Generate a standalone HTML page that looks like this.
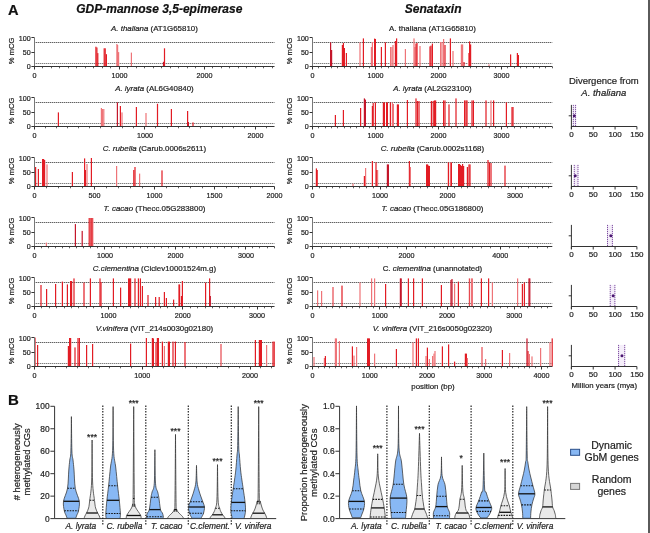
<!DOCTYPE html>
<html><head><meta charset="utf-8"><style>
html,body{margin:0;padding:0;background:#fff;}
svg{display:block;}
</style></head><body>
<svg width="650" height="533" viewBox="0 0 650 533" font-family='"Liberation Sans", Arial, sans-serif'>
<rect width="650" height="533" fill="#fff"/>
<text x="8" y="15.2" font-size="14.6" text-anchor="start" font-weight="bold" fill="#111" stroke="#111" stroke-width="0.2">A</text>
<text x="159.3" y="12.5" font-size="12" text-anchor="middle" font-weight="bold" font-style="italic" fill="#111" stroke="#111" stroke-width="0.2">GDP-mannose 3,5-epimerase</text>
<text x="433.2" y="12.5" font-size="12" text-anchor="middle" font-weight="bold" font-style="italic" fill="#111" stroke="#111" stroke-width="0.2">Senataxin</text>
<line x1="34" y1="42.5" x2="274.5" y2="42.5" stroke="#505050" stroke-width="0.9" stroke-dasharray="1.4,0.6"/>
<line x1="34" y1="63.5" x2="274.5" y2="63.5" stroke="#707070" stroke-width="0.9" stroke-dasharray="1.4,0.6"/>
<rect x="95.3" y="46.7" width="1.2" height="19.8" fill="#e21c24"/>
<rect x="96.3" y="47.5" width="1.2" height="19" fill="#e21c24"/>
<rect x="97.2" y="53.1" width="1.2" height="13.4" fill="#e21c24"/>
<rect x="103.6" y="48.3" width="1.2" height="18.2" fill="#e21c24"/>
<rect x="104.6" y="48.3" width="1.2" height="18.2" fill="#e21c24"/>
<rect x="105.8" y="54.2" width="1.2" height="12.3" fill="#e21c24"/>
<rect x="116.3" y="44" width="1.2" height="22.5" fill="#ee7478"/>
<rect x="117" y="45" width="1.2" height="21.5" fill="#ee7478"/>
<rect x="118" y="52.1" width="1.2" height="14.4" fill="#ee7478"/>
<rect x="130.8" y="52.6" width="1.2" height="13.9" fill="#ee7478"/>
<rect x="162.9" y="61.8" width="1.2" height="4.7" fill="#c4162a"/>
<rect x="163.9" y="48.3" width="1.2" height="18.2" fill="#e21c24"/>
<line x1="34.5" y1="37.8" x2="34.5" y2="69" stroke="#777" stroke-width="1"/>
<line x1="34.4" y1="66.5" x2="274.5" y2="66.5" stroke="#333" stroke-width="1"/>
<line x1="31.4" y1="66.5" x2="34.5" y2="66.5" stroke="#333" stroke-width="1"/>
<text x="30.6" y="69.4" font-size="7.1" text-anchor="end" fill="#222" stroke="#222" stroke-width="0.2">0</text>
<line x1="31.4" y1="52.5" x2="34.5" y2="52.5" stroke="#333" stroke-width="1"/>
<text x="30.6" y="55.05" font-size="7.1" text-anchor="end" fill="#222" stroke="#222" stroke-width="0.2">50</text>
<line x1="31.4" y1="37.5" x2="34.5" y2="37.5" stroke="#333" stroke-width="1"/>
<text x="30.6" y="40.7" font-size="7.1" text-anchor="end" fill="#222" stroke="#222" stroke-width="0.2">100</text>
<line x1="34.5" y1="66.5" x2="34.5" y2="69.5" stroke="#333" stroke-width="1"/>
<text x="34.4" y="77.8" font-size="7.2" text-anchor="middle" fill="#222" stroke="#222" stroke-width="0.2">0</text>
<line x1="42.5" y1="66.5" x2="42.5" y2="68.3" stroke="#333" stroke-width="0.8"/>
<line x1="51.5" y1="66.5" x2="51.5" y2="68.3" stroke="#333" stroke-width="0.8"/>
<line x1="59.5" y1="66.5" x2="59.5" y2="68.3" stroke="#333" stroke-width="0.8"/>
<line x1="68.5" y1="66.5" x2="68.5" y2="68.3" stroke="#333" stroke-width="0.8"/>
<line x1="76.5" y1="66.5" x2="76.5" y2="68.3" stroke="#333" stroke-width="0.8"/>
<line x1="85.5" y1="66.5" x2="85.5" y2="68.3" stroke="#333" stroke-width="0.8"/>
<line x1="93.5" y1="66.5" x2="93.5" y2="68.3" stroke="#333" stroke-width="0.8"/>
<line x1="102.5" y1="66.5" x2="102.5" y2="68.3" stroke="#333" stroke-width="0.8"/>
<line x1="110.5" y1="66.5" x2="110.5" y2="68.3" stroke="#333" stroke-width="0.8"/>
<line x1="119.5" y1="66.5" x2="119.5" y2="69.5" stroke="#333" stroke-width="1"/>
<text x="119.4" y="77.8" font-size="7.2" text-anchor="middle" fill="#222" stroke="#222" stroke-width="0.2">1000</text>
<line x1="127.5" y1="66.5" x2="127.5" y2="68.3" stroke="#333" stroke-width="0.8"/>
<line x1="136.5" y1="66.5" x2="136.5" y2="68.3" stroke="#333" stroke-width="0.8"/>
<line x1="144.5" y1="66.5" x2="144.5" y2="68.3" stroke="#333" stroke-width="0.8"/>
<line x1="153.5" y1="66.5" x2="153.5" y2="68.3" stroke="#333" stroke-width="0.8"/>
<line x1="161.5" y1="66.5" x2="161.5" y2="68.3" stroke="#333" stroke-width="0.8"/>
<line x1="170.5" y1="66.5" x2="170.5" y2="68.3" stroke="#333" stroke-width="0.8"/>
<line x1="178.5" y1="66.5" x2="178.5" y2="68.3" stroke="#333" stroke-width="0.8"/>
<line x1="187.5" y1="66.5" x2="187.5" y2="68.3" stroke="#333" stroke-width="0.8"/>
<line x1="195.5" y1="66.5" x2="195.5" y2="68.3" stroke="#333" stroke-width="0.8"/>
<line x1="204.5" y1="66.5" x2="204.5" y2="69.5" stroke="#333" stroke-width="1"/>
<text x="204.4" y="77.8" font-size="7.2" text-anchor="middle" fill="#222" stroke="#222" stroke-width="0.2">2000</text>
<line x1="212.5" y1="66.5" x2="212.5" y2="68.3" stroke="#333" stroke-width="0.8"/>
<line x1="221.5" y1="66.5" x2="221.5" y2="68.3" stroke="#333" stroke-width="0.8"/>
<line x1="229.5" y1="66.5" x2="229.5" y2="68.3" stroke="#333" stroke-width="0.8"/>
<line x1="238.5" y1="66.5" x2="238.5" y2="68.3" stroke="#333" stroke-width="0.8"/>
<line x1="246.5" y1="66.5" x2="246.5" y2="68.3" stroke="#333" stroke-width="0.8"/>
<line x1="255.5" y1="66.5" x2="255.5" y2="68.3" stroke="#333" stroke-width="0.8"/>
<line x1="263.5" y1="66.5" x2="263.5" y2="68.3" stroke="#333" stroke-width="0.8"/>
<line x1="272.5" y1="66.5" x2="272.5" y2="68.3" stroke="#333" stroke-width="0.8"/>
<text x="11.8" y="50.95" font-size="7.6" text-anchor="middle" fill="#222" stroke="#222" stroke-width="0.2" transform="rotate(-90 11.8 50.95)" dominant-baseline="central">% mCG</text>
<text x="154.45" y="31" font-size="7.9" text-anchor="middle" fill="#222" stroke="#222" stroke-width="0.2"><tspan font-style="italic">A. thaliana</tspan> (AT1G65810)</text>
<line x1="34" y1="102.5" x2="274.5" y2="102.5" stroke="#505050" stroke-width="0.9" stroke-dasharray="1.4,0.6"/>
<line x1="34" y1="123.5" x2="274.5" y2="123.5" stroke="#707070" stroke-width="0.9" stroke-dasharray="1.4,0.6"/>
<rect x="57.8" y="112.4" width="1.2" height="14.1" fill="#e21c24"/>
<rect x="100.8" y="108" width="1.2" height="18.5" fill="#ee7478"/>
<rect x="101.9" y="109" width="1.2" height="17.5" fill="#ee7478"/>
<rect x="103.2" y="109" width="1.2" height="17.5" fill="#ee7478"/>
<rect x="116.8" y="102.4" width="1.2" height="24.1" fill="#c4162a"/>
<rect x="119.8" y="106" width="1.2" height="20.5" fill="#e21c24"/>
<rect x="121.4" y="112.4" width="1.2" height="14.1" fill="#ee7478"/>
<rect x="135.8" y="107" width="1.2" height="19.5" fill="#e21c24"/>
<rect x="145.4" y="113" width="1.2" height="13.5" fill="#ee7478"/>
<rect x="156.9" y="103.8" width="1.2" height="22.7" fill="#e21c24"/>
<rect x="170.8" y="109" width="1.2" height="17.5" fill="#e21c24"/>
<rect x="187" y="111" width="1.2" height="15.5" fill="#e21c24"/>
<rect x="187.8" y="122" width="1.2" height="4.5" fill="#c4162a"/>
<rect x="192.4" y="122.4" width="1.2" height="4.1" fill="#e21c24"/>
<line x1="34.5" y1="97.8" x2="34.5" y2="129" stroke="#777" stroke-width="1"/>
<line x1="34.4" y1="126.5" x2="274.5" y2="126.5" stroke="#333" stroke-width="1"/>
<line x1="31.4" y1="126.5" x2="34.5" y2="126.5" stroke="#333" stroke-width="1"/>
<text x="30.6" y="129.4" font-size="7.1" text-anchor="end" fill="#222" stroke="#222" stroke-width="0.2">0</text>
<line x1="31.4" y1="112.5" x2="34.5" y2="112.5" stroke="#333" stroke-width="1"/>
<text x="30.6" y="115.05" font-size="7.1" text-anchor="end" fill="#222" stroke="#222" stroke-width="0.2">50</text>
<line x1="31.4" y1="97.5" x2="34.5" y2="97.5" stroke="#333" stroke-width="1"/>
<text x="30.6" y="100.7" font-size="7.1" text-anchor="end" fill="#222" stroke="#222" stroke-width="0.2">100</text>
<line x1="34.5" y1="126.5" x2="34.5" y2="129.5" stroke="#333" stroke-width="1"/>
<text x="34.4" y="137.8" font-size="7.2" text-anchor="middle" fill="#222" stroke="#222" stroke-width="0.2">0</text>
<line x1="45.5" y1="126.5" x2="45.5" y2="128.3" stroke="#333" stroke-width="0.8"/>
<line x1="56.5" y1="126.5" x2="56.5" y2="128.3" stroke="#333" stroke-width="0.8"/>
<line x1="67.5" y1="126.5" x2="67.5" y2="128.3" stroke="#333" stroke-width="0.8"/>
<line x1="78.5" y1="126.5" x2="78.5" y2="128.3" stroke="#333" stroke-width="0.8"/>
<line x1="89.5" y1="126.5" x2="89.5" y2="128.3" stroke="#333" stroke-width="0.8"/>
<line x1="100.5" y1="126.5" x2="100.5" y2="128.3" stroke="#333" stroke-width="0.8"/>
<line x1="111.5" y1="126.5" x2="111.5" y2="128.3" stroke="#333" stroke-width="0.8"/>
<line x1="122.5" y1="126.5" x2="122.5" y2="128.3" stroke="#333" stroke-width="0.8"/>
<line x1="133.5" y1="126.5" x2="133.5" y2="128.3" stroke="#333" stroke-width="0.8"/>
<line x1="144.5" y1="126.5" x2="144.5" y2="129.5" stroke="#333" stroke-width="1"/>
<text x="144.9" y="137.8" font-size="7.2" text-anchor="middle" fill="#222" stroke="#222" stroke-width="0.2">1000</text>
<line x1="155.5" y1="126.5" x2="155.5" y2="128.3" stroke="#333" stroke-width="0.8"/>
<line x1="167.5" y1="126.5" x2="167.5" y2="128.3" stroke="#333" stroke-width="0.8"/>
<line x1="178.5" y1="126.5" x2="178.5" y2="128.3" stroke="#333" stroke-width="0.8"/>
<line x1="189.5" y1="126.5" x2="189.5" y2="128.3" stroke="#333" stroke-width="0.8"/>
<line x1="200.5" y1="126.5" x2="200.5" y2="128.3" stroke="#333" stroke-width="0.8"/>
<line x1="211.5" y1="126.5" x2="211.5" y2="128.3" stroke="#333" stroke-width="0.8"/>
<line x1="222.5" y1="126.5" x2="222.5" y2="128.3" stroke="#333" stroke-width="0.8"/>
<line x1="233.5" y1="126.5" x2="233.5" y2="128.3" stroke="#333" stroke-width="0.8"/>
<line x1="244.5" y1="126.5" x2="244.5" y2="128.3" stroke="#333" stroke-width="0.8"/>
<line x1="255.5" y1="126.5" x2="255.5" y2="129.5" stroke="#333" stroke-width="1"/>
<text x="255.4" y="137.8" font-size="7.2" text-anchor="middle" fill="#222" stroke="#222" stroke-width="0.2">2000</text>
<line x1="266.5" y1="126.5" x2="266.5" y2="128.3" stroke="#333" stroke-width="0.8"/>
<text x="11.8" y="110.95" font-size="7.6" text-anchor="middle" fill="#222" stroke="#222" stroke-width="0.2" transform="rotate(-90 11.8 110.95)" dominant-baseline="central">% mCG</text>
<text x="154.45" y="91" font-size="7.9" text-anchor="middle" fill="#222" stroke="#222" stroke-width="0.2"><tspan font-style="italic">A. lyrata</tspan> (AL6G40840)</text>
<line x1="34" y1="162.5" x2="274.5" y2="162.5" stroke="#505050" stroke-width="0.9" stroke-dasharray="1.4,0.6"/>
<line x1="34" y1="183.5" x2="274.5" y2="183.5" stroke="#707070" stroke-width="0.9" stroke-dasharray="1.4,0.6"/>
<rect x="35" y="167" width="1.2" height="19.5" fill="#e21c24"/>
<rect x="37.8" y="169" width="1.2" height="17.5" fill="#e21c24"/>
<rect x="42" y="159" width="1.2" height="27.5" fill="#e21c24"/>
<rect x="43" y="159" width="1.2" height="27.5" fill="#e21c24"/>
<rect x="44" y="160" width="1.2" height="26.5" fill="#e21c24"/>
<rect x="46.4" y="164.4" width="1.2" height="22.1" fill="#ee7478"/>
<rect x="71.8" y="172" width="1.2" height="14.5" fill="#e21c24"/>
<rect x="84" y="158.4" width="1.2" height="28.1" fill="#e21c24"/>
<rect x="84.8" y="170" width="1.2" height="16.5" fill="#e21c24"/>
<rect x="86.4" y="164" width="1.2" height="22.5" fill="#ee7478"/>
<rect x="90.8" y="158" width="1.2" height="28.5" fill="#e21c24"/>
<rect x="116" y="166" width="1.2" height="20.5" fill="#ee7478"/>
<rect x="133.2" y="170" width="1.2" height="16.5" fill="#e21c24"/>
<rect x="134.4" y="167" width="1.2" height="19.5" fill="#e21c24"/>
<rect x="139" y="173.6" width="1.2" height="12.9" fill="#ee7478"/>
<rect x="161.4" y="170.4" width="1.2" height="16.1" fill="#e21c24"/>
<line x1="34.5" y1="157.8" x2="34.5" y2="189" stroke="#777" stroke-width="1"/>
<line x1="34.4" y1="186.5" x2="274.5" y2="186.5" stroke="#333" stroke-width="1"/>
<line x1="31.4" y1="186.5" x2="34.5" y2="186.5" stroke="#333" stroke-width="1"/>
<text x="30.6" y="189.4" font-size="7.1" text-anchor="end" fill="#222" stroke="#222" stroke-width="0.2">0</text>
<line x1="31.4" y1="172.5" x2="34.5" y2="172.5" stroke="#333" stroke-width="1"/>
<text x="30.6" y="175.05" font-size="7.1" text-anchor="end" fill="#222" stroke="#222" stroke-width="0.2">50</text>
<line x1="31.4" y1="157.5" x2="34.5" y2="157.5" stroke="#333" stroke-width="1"/>
<text x="30.6" y="160.7" font-size="7.1" text-anchor="end" fill="#222" stroke="#222" stroke-width="0.2">100</text>
<line x1="34.5" y1="186.5" x2="34.5" y2="189.5" stroke="#333" stroke-width="1"/>
<text x="34.4" y="197.8" font-size="7.2" text-anchor="middle" fill="#222" stroke="#222" stroke-width="0.2">0</text>
<line x1="46.5" y1="186.5" x2="46.5" y2="188.3" stroke="#333" stroke-width="0.8"/>
<line x1="58.5" y1="186.5" x2="58.5" y2="188.3" stroke="#333" stroke-width="0.8"/>
<line x1="70.5" y1="186.5" x2="70.5" y2="188.3" stroke="#333" stroke-width="0.8"/>
<line x1="82.5" y1="186.5" x2="82.5" y2="188.3" stroke="#333" stroke-width="0.8"/>
<line x1="94.5" y1="186.5" x2="94.5" y2="189.5" stroke="#333" stroke-width="1"/>
<text x="94.4" y="197.8" font-size="7.2" text-anchor="middle" fill="#222" stroke="#222" stroke-width="0.2">500</text>
<line x1="106.5" y1="186.5" x2="106.5" y2="188.3" stroke="#333" stroke-width="0.8"/>
<line x1="118.5" y1="186.5" x2="118.5" y2="188.3" stroke="#333" stroke-width="0.8"/>
<line x1="130.5" y1="186.5" x2="130.5" y2="188.3" stroke="#333" stroke-width="0.8"/>
<line x1="142.5" y1="186.5" x2="142.5" y2="188.3" stroke="#333" stroke-width="0.8"/>
<line x1="154.5" y1="186.5" x2="154.5" y2="189.5" stroke="#333" stroke-width="1"/>
<text x="154.4" y="197.8" font-size="7.2" text-anchor="middle" fill="#222" stroke="#222" stroke-width="0.2">1000</text>
<line x1="166.5" y1="186.5" x2="166.5" y2="188.3" stroke="#333" stroke-width="0.8"/>
<line x1="178.5" y1="186.5" x2="178.5" y2="188.3" stroke="#333" stroke-width="0.8"/>
<line x1="190.5" y1="186.5" x2="190.5" y2="188.3" stroke="#333" stroke-width="0.8"/>
<line x1="202.5" y1="186.5" x2="202.5" y2="188.3" stroke="#333" stroke-width="0.8"/>
<line x1="214.5" y1="186.5" x2="214.5" y2="189.5" stroke="#333" stroke-width="1"/>
<text x="214.4" y="197.8" font-size="7.2" text-anchor="middle" fill="#222" stroke="#222" stroke-width="0.2">1500</text>
<line x1="226.5" y1="186.5" x2="226.5" y2="188.3" stroke="#333" stroke-width="0.8"/>
<line x1="238.5" y1="186.5" x2="238.5" y2="188.3" stroke="#333" stroke-width="0.8"/>
<line x1="250.5" y1="186.5" x2="250.5" y2="188.3" stroke="#333" stroke-width="0.8"/>
<line x1="262.5" y1="186.5" x2="262.5" y2="188.3" stroke="#333" stroke-width="0.8"/>
<line x1="274.5" y1="186.5" x2="274.5" y2="189.5" stroke="#333" stroke-width="1"/>
<text x="274.4" y="197.8" font-size="7.2" text-anchor="middle" fill="#222" stroke="#222" stroke-width="0.2">2000</text>
<text x="11.8" y="170.95" font-size="7.6" text-anchor="middle" fill="#222" stroke="#222" stroke-width="0.2" transform="rotate(-90 11.8 170.95)" dominant-baseline="central">% mCG</text>
<text x="154.45" y="151" font-size="7.9" text-anchor="middle" fill="#222" stroke="#222" stroke-width="0.2"><tspan font-style="italic">C. rubella</tspan> (Carub.0006s2611)</text>
<line x1="34" y1="222.5" x2="274.5" y2="222.5" stroke="#505050" stroke-width="0.9" stroke-dasharray="1.4,0.6"/>
<line x1="34" y1="243.5" x2="274.5" y2="243.5" stroke="#707070" stroke-width="0.9" stroke-dasharray="1.4,0.6"/>
<rect x="45.8" y="242.6" width="1.2" height="3.9" fill="#ee7478"/>
<rect x="74.8" y="224.1" width="1.2" height="22.4" fill="#c4162a"/>
<rect x="81.6" y="230.9" width="1.2" height="15.6" fill="#c4162a"/>
<rect x="88.6" y="218" width="1.2" height="28.5" fill="#e21c24"/>
<rect x="89.6" y="218" width="1.2" height="28.5" fill="#e64a50"/>
<rect x="90.4" y="218" width="1.2" height="28.5" fill="#e64a50"/>
<rect x="91.3" y="218" width="1.2" height="28.5" fill="#e21c24"/>
<rect x="92.1" y="218" width="1.2" height="28.5" fill="#e64a50"/>
<line x1="34.5" y1="217.8" x2="34.5" y2="249" stroke="#777" stroke-width="1"/>
<line x1="34.4" y1="246.5" x2="274.5" y2="246.5" stroke="#333" stroke-width="1"/>
<line x1="31.4" y1="246.5" x2="34.5" y2="246.5" stroke="#333" stroke-width="1"/>
<text x="30.6" y="249.4" font-size="7.1" text-anchor="end" fill="#222" stroke="#222" stroke-width="0.2">0</text>
<line x1="31.4" y1="232.5" x2="34.5" y2="232.5" stroke="#333" stroke-width="1"/>
<text x="30.6" y="235.05" font-size="7.1" text-anchor="end" fill="#222" stroke="#222" stroke-width="0.2">50</text>
<line x1="31.4" y1="217.5" x2="34.5" y2="217.5" stroke="#333" stroke-width="1"/>
<text x="30.6" y="220.7" font-size="7.1" text-anchor="end" fill="#222" stroke="#222" stroke-width="0.2">100</text>
<line x1="34.5" y1="246.5" x2="34.5" y2="249.5" stroke="#333" stroke-width="1"/>
<text x="34.4" y="257.8" font-size="7.2" text-anchor="middle" fill="#222" stroke="#222" stroke-width="0.2">0</text>
<line x1="41.5" y1="246.5" x2="41.5" y2="248.3" stroke="#333" stroke-width="0.8"/>
<line x1="48.5" y1="246.5" x2="48.5" y2="248.3" stroke="#333" stroke-width="0.8"/>
<line x1="55.5" y1="246.5" x2="55.5" y2="248.3" stroke="#333" stroke-width="0.8"/>
<line x1="62.5" y1="246.5" x2="62.5" y2="248.3" stroke="#333" stroke-width="0.8"/>
<line x1="69.5" y1="246.5" x2="69.5" y2="248.3" stroke="#333" stroke-width="0.8"/>
<line x1="76.5" y1="246.5" x2="76.5" y2="248.3" stroke="#333" stroke-width="0.8"/>
<line x1="83.5" y1="246.5" x2="83.5" y2="248.3" stroke="#333" stroke-width="0.8"/>
<line x1="90.5" y1="246.5" x2="90.5" y2="248.3" stroke="#333" stroke-width="0.8"/>
<line x1="97.5" y1="246.5" x2="97.5" y2="248.3" stroke="#333" stroke-width="0.8"/>
<line x1="104.5" y1="246.5" x2="104.5" y2="249.5" stroke="#333" stroke-width="1"/>
<text x="104.9" y="257.8" font-size="7.2" text-anchor="middle" fill="#222" stroke="#222" stroke-width="0.2">1000</text>
<line x1="111.5" y1="246.5" x2="111.5" y2="248.3" stroke="#333" stroke-width="0.8"/>
<line x1="119.5" y1="246.5" x2="119.5" y2="248.3" stroke="#333" stroke-width="0.8"/>
<line x1="126.5" y1="246.5" x2="126.5" y2="248.3" stroke="#333" stroke-width="0.8"/>
<line x1="133.5" y1="246.5" x2="133.5" y2="248.3" stroke="#333" stroke-width="0.8"/>
<line x1="140.5" y1="246.5" x2="140.5" y2="248.3" stroke="#333" stroke-width="0.8"/>
<line x1="147.5" y1="246.5" x2="147.5" y2="248.3" stroke="#333" stroke-width="0.8"/>
<line x1="154.5" y1="246.5" x2="154.5" y2="248.3" stroke="#333" stroke-width="0.8"/>
<line x1="161.5" y1="246.5" x2="161.5" y2="248.3" stroke="#333" stroke-width="0.8"/>
<line x1="168.5" y1="246.5" x2="168.5" y2="248.3" stroke="#333" stroke-width="0.8"/>
<line x1="175.5" y1="246.5" x2="175.5" y2="249.5" stroke="#333" stroke-width="1"/>
<text x="175.4" y="257.8" font-size="7.2" text-anchor="middle" fill="#222" stroke="#222" stroke-width="0.2">2000</text>
<line x1="182.5" y1="246.5" x2="182.5" y2="248.3" stroke="#333" stroke-width="0.8"/>
<line x1="189.5" y1="246.5" x2="189.5" y2="248.3" stroke="#333" stroke-width="0.8"/>
<line x1="196.5" y1="246.5" x2="196.5" y2="248.3" stroke="#333" stroke-width="0.8"/>
<line x1="203.5" y1="246.5" x2="203.5" y2="248.3" stroke="#333" stroke-width="0.8"/>
<line x1="210.5" y1="246.5" x2="210.5" y2="248.3" stroke="#333" stroke-width="0.8"/>
<line x1="217.5" y1="246.5" x2="217.5" y2="248.3" stroke="#333" stroke-width="0.8"/>
<line x1="224.5" y1="246.5" x2="224.5" y2="248.3" stroke="#333" stroke-width="0.8"/>
<line x1="231.5" y1="246.5" x2="231.5" y2="248.3" stroke="#333" stroke-width="0.8"/>
<line x1="238.5" y1="246.5" x2="238.5" y2="248.3" stroke="#333" stroke-width="0.8"/>
<line x1="245.5" y1="246.5" x2="245.5" y2="249.5" stroke="#333" stroke-width="1"/>
<text x="245.9" y="257.8" font-size="7.2" text-anchor="middle" fill="#222" stroke="#222" stroke-width="0.2">3000</text>
<line x1="252.5" y1="246.5" x2="252.5" y2="248.3" stroke="#333" stroke-width="0.8"/>
<line x1="259.5" y1="246.5" x2="259.5" y2="248.3" stroke="#333" stroke-width="0.8"/>
<line x1="267.5" y1="246.5" x2="267.5" y2="248.3" stroke="#333" stroke-width="0.8"/>
<line x1="274.5" y1="246.5" x2="274.5" y2="248.3" stroke="#333" stroke-width="0.8"/>
<text x="11.8" y="230.95" font-size="7.6" text-anchor="middle" fill="#222" stroke="#222" stroke-width="0.2" transform="rotate(-90 11.8 230.95)" dominant-baseline="central">% mCG</text>
<text x="154.45" y="211" font-size="7.9" text-anchor="middle" fill="#222" stroke="#222" stroke-width="0.2"><tspan font-style="italic">T. cacao</tspan> (Thecc.05G283800)</text>
<line x1="34" y1="282.5" x2="274.5" y2="282.5" stroke="#505050" stroke-width="0.9" stroke-dasharray="1.4,0.6"/>
<line x1="34" y1="303.5" x2="274.5" y2="303.5" stroke="#707070" stroke-width="0.9" stroke-dasharray="1.4,0.6"/>
<rect x="40.4" y="285" width="1.2" height="21.5" fill="#e21c24"/>
<rect x="46" y="289" width="1.2" height="17.5" fill="#e21c24"/>
<rect x="55" y="284" width="1.2" height="22.5" fill="#e21c24"/>
<rect x="61.8" y="281.6" width="1.2" height="24.9" fill="#e21c24"/>
<rect x="66.8" y="284.4" width="1.2" height="22.1" fill="#e21c24"/>
<rect x="70" y="281" width="1.2" height="25.5" fill="#e21c24"/>
<rect x="71" y="281" width="1.2" height="25.5" fill="#e21c24"/>
<rect x="73.4" y="278.4" width="1.2" height="28.1" fill="#e21c24"/>
<rect x="83.4" y="282.6" width="1.2" height="23.9" fill="#e21c24"/>
<rect x="89.8" y="278.4" width="1.2" height="28.1" fill="#e21c24"/>
<rect x="99.4" y="278.4" width="1.2" height="28.1" fill="#e21c24"/>
<rect x="100.4" y="282" width="1.2" height="24.5" fill="#e21c24"/>
<rect x="112.8" y="278.4" width="1.2" height="28.1" fill="#e21c24"/>
<rect x="120" y="287.6" width="1.2" height="18.9" fill="#e21c24"/>
<rect x="128" y="278.4" width="1.2" height="28.1" fill="#e21c24"/>
<rect x="129" y="278.4" width="1.2" height="28.1" fill="#e21c24"/>
<rect x="130" y="278.4" width="1.2" height="28.1" fill="#e21c24"/>
<rect x="134.4" y="278.4" width="1.2" height="28.1" fill="#e21c24"/>
<rect x="137.8" y="278.4" width="1.2" height="28.1" fill="#e21c24"/>
<rect x="139.8" y="278.4" width="1.2" height="28.1" fill="#e21c24"/>
<rect x="141.8" y="286" width="1.2" height="20.5" fill="#e21c24"/>
<rect x="147.4" y="295" width="1.2" height="11.5" fill="#e21c24"/>
<rect x="155" y="297" width="1.2" height="9.5" fill="#e21c24"/>
<rect x="158.6" y="297" width="1.2" height="9.5" fill="#e21c24"/>
<rect x="163.8" y="292" width="1.2" height="14.5" fill="#e21c24"/>
<rect x="165.8" y="298" width="1.2" height="8.5" fill="#e21c24"/>
<rect x="173" y="299.6" width="1.2" height="6.9" fill="#e21c24"/>
<rect x="178" y="284.4" width="1.2" height="22.1" fill="#ee7478"/>
<rect x="179" y="284.4" width="1.2" height="22.1" fill="#e21c24"/>
<rect x="180.9" y="296" width="1.2" height="10.5" fill="#e21c24"/>
<rect x="181.8" y="281" width="1.2" height="25.5" fill="#e21c24"/>
<rect x="205" y="282.6" width="1.2" height="23.9" fill="#e21c24"/>
<rect x="209" y="278.4" width="1.2" height="28.1" fill="#e21c24"/>
<rect x="209.7" y="296" width="1.2" height="10.5" fill="#c4162a"/>
<line x1="34.5" y1="277.8" x2="34.5" y2="309" stroke="#777" stroke-width="1"/>
<line x1="34.4" y1="306.5" x2="274.5" y2="306.5" stroke="#333" stroke-width="1"/>
<line x1="31.4" y1="306.5" x2="34.5" y2="306.5" stroke="#333" stroke-width="1"/>
<text x="30.6" y="309.4" font-size="7.1" text-anchor="end" fill="#222" stroke="#222" stroke-width="0.2">0</text>
<line x1="31.4" y1="292.5" x2="34.5" y2="292.5" stroke="#333" stroke-width="1"/>
<text x="30.6" y="295.05" font-size="7.1" text-anchor="end" fill="#222" stroke="#222" stroke-width="0.2">50</text>
<line x1="31.4" y1="277.5" x2="34.5" y2="277.5" stroke="#333" stroke-width="1"/>
<text x="30.6" y="280.7" font-size="7.1" text-anchor="end" fill="#222" stroke="#222" stroke-width="0.2">100</text>
<line x1="34.5" y1="306.5" x2="34.5" y2="309.5" stroke="#333" stroke-width="1"/>
<text x="34.4" y="317.8" font-size="7.2" text-anchor="middle" fill="#222" stroke="#222" stroke-width="0.2">0</text>
<line x1="41.5" y1="306.5" x2="41.5" y2="308.3" stroke="#333" stroke-width="0.8"/>
<line x1="49.5" y1="306.5" x2="49.5" y2="308.3" stroke="#333" stroke-width="0.8"/>
<line x1="56.5" y1="306.5" x2="56.5" y2="308.3" stroke="#333" stroke-width="0.8"/>
<line x1="64.5" y1="306.5" x2="64.5" y2="308.3" stroke="#333" stroke-width="0.8"/>
<line x1="71.5" y1="306.5" x2="71.5" y2="308.3" stroke="#333" stroke-width="0.8"/>
<line x1="78.5" y1="306.5" x2="78.5" y2="308.3" stroke="#333" stroke-width="0.8"/>
<line x1="86.5" y1="306.5" x2="86.5" y2="308.3" stroke="#333" stroke-width="0.8"/>
<line x1="93.5" y1="306.5" x2="93.5" y2="308.3" stroke="#333" stroke-width="0.8"/>
<line x1="101.5" y1="306.5" x2="101.5" y2="308.3" stroke="#333" stroke-width="0.8"/>
<line x1="108.5" y1="306.5" x2="108.5" y2="309.5" stroke="#333" stroke-width="1"/>
<text x="108.6" y="317.8" font-size="7.2" text-anchor="middle" fill="#222" stroke="#222" stroke-width="0.2">1000</text>
<line x1="116.5" y1="306.5" x2="116.5" y2="308.3" stroke="#333" stroke-width="0.8"/>
<line x1="123.5" y1="306.5" x2="123.5" y2="308.3" stroke="#333" stroke-width="0.8"/>
<line x1="130.5" y1="306.5" x2="130.5" y2="308.3" stroke="#333" stroke-width="0.8"/>
<line x1="138.5" y1="306.5" x2="138.5" y2="308.3" stroke="#333" stroke-width="0.8"/>
<line x1="145.5" y1="306.5" x2="145.5" y2="308.3" stroke="#333" stroke-width="0.8"/>
<line x1="153.5" y1="306.5" x2="153.5" y2="308.3" stroke="#333" stroke-width="0.8"/>
<line x1="160.5" y1="306.5" x2="160.5" y2="308.3" stroke="#333" stroke-width="0.8"/>
<line x1="167.5" y1="306.5" x2="167.5" y2="308.3" stroke="#333" stroke-width="0.8"/>
<line x1="175.5" y1="306.5" x2="175.5" y2="308.3" stroke="#333" stroke-width="0.8"/>
<line x1="182.5" y1="306.5" x2="182.5" y2="309.5" stroke="#333" stroke-width="1"/>
<text x="182.8" y="317.8" font-size="7.2" text-anchor="middle" fill="#222" stroke="#222" stroke-width="0.2">2000</text>
<line x1="190.5" y1="306.5" x2="190.5" y2="308.3" stroke="#333" stroke-width="0.8"/>
<line x1="197.5" y1="306.5" x2="197.5" y2="308.3" stroke="#333" stroke-width="0.8"/>
<line x1="205.5" y1="306.5" x2="205.5" y2="308.3" stroke="#333" stroke-width="0.8"/>
<line x1="212.5" y1="306.5" x2="212.5" y2="308.3" stroke="#333" stroke-width="0.8"/>
<line x1="219.5" y1="306.5" x2="219.5" y2="308.3" stroke="#333" stroke-width="0.8"/>
<line x1="227.5" y1="306.5" x2="227.5" y2="308.3" stroke="#333" stroke-width="0.8"/>
<line x1="234.5" y1="306.5" x2="234.5" y2="308.3" stroke="#333" stroke-width="0.8"/>
<line x1="242.5" y1="306.5" x2="242.5" y2="308.3" stroke="#333" stroke-width="0.8"/>
<line x1="249.5" y1="306.5" x2="249.5" y2="308.3" stroke="#333" stroke-width="0.8"/>
<line x1="257.5" y1="306.5" x2="257.5" y2="309.5" stroke="#333" stroke-width="1"/>
<text x="257" y="317.8" font-size="7.2" text-anchor="middle" fill="#222" stroke="#222" stroke-width="0.2">3000</text>
<line x1="264.5" y1="306.5" x2="264.5" y2="308.3" stroke="#333" stroke-width="0.8"/>
<line x1="271.5" y1="306.5" x2="271.5" y2="308.3" stroke="#333" stroke-width="0.8"/>
<text x="11.8" y="290.95" font-size="7.6" text-anchor="middle" fill="#222" stroke="#222" stroke-width="0.2" transform="rotate(-90 11.8 290.95)" dominant-baseline="central">% mCG</text>
<text x="154.45" y="271" font-size="7.9" text-anchor="middle" fill="#222" stroke="#222" stroke-width="0.2"><tspan font-style="italic">C.clementina</tspan> (Ciclev10001524m.g)</text>
<line x1="34" y1="342.5" x2="274.5" y2="342.5" stroke="#505050" stroke-width="0.9" stroke-dasharray="1.4,0.6"/>
<line x1="34" y1="363.5" x2="274.5" y2="363.5" stroke="#707070" stroke-width="0.9" stroke-dasharray="1.4,0.6"/>
<rect x="34.4" y="337.6" width="1.2" height="28.9" fill="#e21c24"/>
<rect x="37" y="345" width="1.2" height="21.5" fill="#e21c24"/>
<rect x="67.8" y="346" width="1.2" height="20.5" fill="#e21c24"/>
<rect x="69" y="338" width="1.2" height="28.5" fill="#e21c24"/>
<rect x="70" y="338" width="1.2" height="28.5" fill="#e21c24"/>
<rect x="74.4" y="347.4" width="1.2" height="19.1" fill="#e21c24"/>
<rect x="77.4" y="338" width="1.2" height="28.5" fill="#e21c24"/>
<rect x="78.8" y="338" width="1.2" height="28.5" fill="#e21c24"/>
<rect x="86" y="345" width="1.2" height="21.5" fill="#e21c24"/>
<rect x="92" y="344" width="1.2" height="22.5" fill="#e21c24"/>
<rect x="130" y="343.6" width="1.2" height="22.9" fill="#e21c24"/>
<rect x="145.8" y="338" width="1.2" height="28.5" fill="#e21c24"/>
<rect x="151.8" y="338" width="1.2" height="28.5" fill="#e21c24"/>
<rect x="152.8" y="338.4" width="1.2" height="28.1" fill="#e21c24"/>
<rect x="155.4" y="342.4" width="1.2" height="24.1" fill="#e21c24"/>
<rect x="156.8" y="338" width="1.2" height="28.5" fill="#e21c24"/>
<rect x="157.8" y="338" width="1.2" height="28.5" fill="#e21c24"/>
<rect x="161.8" y="341.6" width="1.2" height="24.9" fill="#e21c24"/>
<rect x="163.8" y="346" width="1.2" height="20.5" fill="#ee7478"/>
<rect x="167.8" y="341.6" width="1.2" height="24.9" fill="#e21c24"/>
<rect x="168.8" y="341.6" width="1.2" height="24.9" fill="#e21c24"/>
<rect x="172.4" y="341.6" width="1.2" height="24.9" fill="#e21c24"/>
<rect x="174.8" y="341.6" width="1.2" height="24.9" fill="#e21c24"/>
<rect x="184.4" y="342" width="1.2" height="24.5" fill="#e21c24"/>
<rect x="220.4" y="344" width="1.2" height="22.5" fill="#e64a50"/>
<rect x="254.8" y="340" width="1.2" height="26.5" fill="#e21c24"/>
<rect x="258.8" y="340" width="1.2" height="26.5" fill="#e21c24"/>
<rect x="259.8" y="340" width="1.2" height="26.5" fill="#e21c24"/>
<rect x="260.8" y="340" width="1.2" height="26.5" fill="#e21c24"/>
<rect x="266" y="345" width="1.2" height="21.5" fill="#ee7478"/>
<rect x="272.4" y="341.6" width="1.2" height="24.9" fill="#e21c24"/>
<rect x="273.6" y="341.6" width="1.2" height="24.9" fill="#e21c24"/>
<line x1="34.5" y1="337.8" x2="34.5" y2="369" stroke="#777" stroke-width="1"/>
<line x1="34.4" y1="366.5" x2="274.5" y2="366.5" stroke="#333" stroke-width="1"/>
<line x1="31.4" y1="366.5" x2="34.5" y2="366.5" stroke="#333" stroke-width="1"/>
<text x="30.6" y="369.4" font-size="7.1" text-anchor="end" fill="#222" stroke="#222" stroke-width="0.2">0</text>
<line x1="31.4" y1="352.5" x2="34.5" y2="352.5" stroke="#333" stroke-width="1"/>
<text x="30.6" y="355.05" font-size="7.1" text-anchor="end" fill="#222" stroke="#222" stroke-width="0.2">50</text>
<line x1="31.4" y1="337.5" x2="34.5" y2="337.5" stroke="#333" stroke-width="1"/>
<text x="30.6" y="340.7" font-size="7.1" text-anchor="end" fill="#222" stroke="#222" stroke-width="0.2">100</text>
<line x1="34.5" y1="366.5" x2="34.5" y2="369.5" stroke="#333" stroke-width="1"/>
<text x="34.4" y="377.8" font-size="7.2" text-anchor="middle" fill="#222" stroke="#222" stroke-width="0.2">0</text>
<line x1="45.5" y1="366.5" x2="45.5" y2="368.3" stroke="#333" stroke-width="0.8"/>
<line x1="55.5" y1="366.5" x2="55.5" y2="368.3" stroke="#333" stroke-width="0.8"/>
<line x1="66.5" y1="366.5" x2="66.5" y2="368.3" stroke="#333" stroke-width="0.8"/>
<line x1="77.5" y1="366.5" x2="77.5" y2="368.3" stroke="#333" stroke-width="0.8"/>
<line x1="88.5" y1="366.5" x2="88.5" y2="368.3" stroke="#333" stroke-width="0.8"/>
<line x1="99.5" y1="366.5" x2="99.5" y2="368.3" stroke="#333" stroke-width="0.8"/>
<line x1="109.5" y1="366.5" x2="109.5" y2="368.3" stroke="#333" stroke-width="0.8"/>
<line x1="120.5" y1="366.5" x2="120.5" y2="368.3" stroke="#333" stroke-width="0.8"/>
<line x1="131.5" y1="366.5" x2="131.5" y2="368.3" stroke="#333" stroke-width="0.8"/>
<line x1="142.5" y1="366.5" x2="142.5" y2="369.5" stroke="#333" stroke-width="1"/>
<text x="142.2" y="377.8" font-size="7.2" text-anchor="middle" fill="#222" stroke="#222" stroke-width="0.2">1000</text>
<line x1="152.5" y1="366.5" x2="152.5" y2="368.3" stroke="#333" stroke-width="0.8"/>
<line x1="163.5" y1="366.5" x2="163.5" y2="368.3" stroke="#333" stroke-width="0.8"/>
<line x1="174.5" y1="366.5" x2="174.5" y2="368.3" stroke="#333" stroke-width="0.8"/>
<line x1="185.5" y1="366.5" x2="185.5" y2="368.3" stroke="#333" stroke-width="0.8"/>
<line x1="196.5" y1="366.5" x2="196.5" y2="368.3" stroke="#333" stroke-width="0.8"/>
<line x1="206.5" y1="366.5" x2="206.5" y2="368.3" stroke="#333" stroke-width="0.8"/>
<line x1="217.5" y1="366.5" x2="217.5" y2="368.3" stroke="#333" stroke-width="0.8"/>
<line x1="228.5" y1="366.5" x2="228.5" y2="368.3" stroke="#333" stroke-width="0.8"/>
<line x1="239.5" y1="366.5" x2="239.5" y2="368.3" stroke="#333" stroke-width="0.8"/>
<line x1="250.5" y1="366.5" x2="250.5" y2="369.5" stroke="#333" stroke-width="1"/>
<text x="250" y="377.8" font-size="7.2" text-anchor="middle" fill="#222" stroke="#222" stroke-width="0.2">2000</text>
<line x1="260.5" y1="366.5" x2="260.5" y2="368.3" stroke="#333" stroke-width="0.8"/>
<line x1="271.5" y1="366.5" x2="271.5" y2="368.3" stroke="#333" stroke-width="0.8"/>
<text x="11.8" y="350.95" font-size="7.6" text-anchor="middle" fill="#222" stroke="#222" stroke-width="0.2" transform="rotate(-90 11.8 350.95)" dominant-baseline="central">% mCG</text>
<text x="154.45" y="331" font-size="7.9" text-anchor="middle" fill="#222" stroke="#222" stroke-width="0.2"><tspan font-style="italic">V.vinifera</tspan> (VIT_214s0030g02180)</text>
<line x1="312" y1="42.5" x2="552.3" y2="42.5" stroke="#505050" stroke-width="0.9" stroke-dasharray="1.4,0.6"/>
<line x1="312" y1="63.5" x2="552.3" y2="63.5" stroke="#707070" stroke-width="0.9" stroke-dasharray="1.4,0.6"/>
<rect x="330" y="42.4" width="1.2" height="24.1" fill="#c4162a"/>
<rect x="331" y="50" width="1.2" height="16.5" fill="#c4162a"/>
<rect x="341.8" y="45" width="1.2" height="21.5" fill="#e21c24"/>
<rect x="342.8" y="43" width="1.2" height="23.5" fill="#e21c24"/>
<rect x="343.8" y="48" width="1.2" height="18.5" fill="#e21c24"/>
<rect x="345.8" y="53" width="1.2" height="13.5" fill="#e21c24"/>
<rect x="359.4" y="42.4" width="1.2" height="24.1" fill="#ee7478"/>
<rect x="362.8" y="38.4" width="1.2" height="28.1" fill="#e21c24"/>
<rect x="370.8" y="47" width="1.2" height="19.5" fill="#ee7478"/>
<rect x="371.8" y="42" width="1.2" height="24.5" fill="#ee7478"/>
<rect x="374" y="38.6" width="1.2" height="27.9" fill="#e21c24"/>
<rect x="374.8" y="39" width="1.2" height="27.5" fill="#e21c24"/>
<rect x="380.8" y="47" width="1.2" height="19.5" fill="#e21c24"/>
<rect x="384.8" y="42.4" width="1.2" height="24.1" fill="#e21c24"/>
<rect x="390" y="47" width="1.2" height="19.5" fill="#ee7478"/>
<rect x="391.4" y="47" width="1.2" height="19.5" fill="#ee7478"/>
<rect x="392.4" y="45" width="1.2" height="21.5" fill="#ee7478"/>
<rect x="394.8" y="41" width="1.2" height="25.5" fill="#e21c24"/>
<rect x="396" y="38.4" width="1.2" height="28.1" fill="#e21c24"/>
<rect x="404.8" y="49" width="1.2" height="17.5" fill="#ee7478"/>
<rect x="413.4" y="38.4" width="1.2" height="28.1" fill="#ee7478"/>
<rect x="414.2" y="47" width="1.2" height="19.5" fill="#ee7478"/>
<rect x="415.4" y="43.6" width="1.2" height="22.9" fill="#e21c24"/>
<rect x="416.4" y="43" width="1.2" height="23.5" fill="#e21c24"/>
<rect x="419.4" y="46" width="1.2" height="20.5" fill="#ee7478"/>
<rect x="429.4" y="46.4" width="1.2" height="20.1" fill="#e21c24"/>
<rect x="430.4" y="45.6" width="1.2" height="20.9" fill="#e21c24"/>
<rect x="431.8" y="43.6" width="1.2" height="22.9" fill="#e21c24"/>
<rect x="440" y="42" width="1.2" height="24.5" fill="#ee7478"/>
<rect x="441.4" y="42" width="1.2" height="24.5" fill="#ee7478"/>
<rect x="443" y="39" width="1.2" height="27.5" fill="#ee7478"/>
<rect x="444.4" y="45" width="1.2" height="21.5" fill="#e21c24"/>
<rect x="449.8" y="38.4" width="1.2" height="28.1" fill="#e21c24"/>
<rect x="452.4" y="51" width="1.2" height="15.5" fill="#ee7478"/>
<rect x="460.8" y="44.4" width="1.2" height="22.1" fill="#ee7478"/>
<rect x="462" y="44.4" width="1.2" height="22.1" fill="#ee7478"/>
<rect x="463.4" y="62" width="1.2" height="4.5" fill="#e21c24"/>
<rect x="468" y="53" width="1.2" height="13.5" fill="#ee7478"/>
<rect x="469" y="41.4" width="1.2" height="25.1" fill="#e21c24"/>
<rect x="470" y="44.4" width="1.2" height="22.1" fill="#e21c24"/>
<rect x="488.4" y="64.4" width="1.2" height="2.1" fill="#ee7478"/>
<rect x="510" y="54.4" width="1.2" height="12.1" fill="#e21c24"/>
<rect x="516.8" y="53" width="1.2" height="13.5" fill="#e21c24"/>
<rect x="517.8" y="55" width="1.2" height="11.5" fill="#e21c24"/>
<line x1="312.5" y1="37.8" x2="312.5" y2="69" stroke="#777" stroke-width="1"/>
<line x1="312.6" y1="66.5" x2="552.3" y2="66.5" stroke="#333" stroke-width="1"/>
<line x1="309.6" y1="66.5" x2="312.5" y2="66.5" stroke="#333" stroke-width="1"/>
<text x="308.8" y="69.4" font-size="7.1" text-anchor="end" fill="#222" stroke="#222" stroke-width="0.2">0</text>
<line x1="309.6" y1="52.5" x2="312.5" y2="52.5" stroke="#333" stroke-width="1"/>
<text x="308.8" y="55.05" font-size="7.1" text-anchor="end" fill="#222" stroke="#222" stroke-width="0.2">50</text>
<line x1="309.6" y1="37.5" x2="312.5" y2="37.5" stroke="#333" stroke-width="1"/>
<text x="308.8" y="40.7" font-size="7.1" text-anchor="end" fill="#222" stroke="#222" stroke-width="0.2">100</text>
<line x1="312.5" y1="66.5" x2="312.5" y2="69.5" stroke="#333" stroke-width="1"/>
<text x="312.6" y="77.8" font-size="7.2" text-anchor="middle" fill="#222" stroke="#222" stroke-width="0.2">0</text>
<line x1="318.5" y1="66.5" x2="318.5" y2="68.3" stroke="#333" stroke-width="0.8"/>
<line x1="325.5" y1="66.5" x2="325.5" y2="68.3" stroke="#333" stroke-width="0.8"/>
<line x1="331.5" y1="66.5" x2="331.5" y2="68.3" stroke="#333" stroke-width="0.8"/>
<line x1="337.5" y1="66.5" x2="337.5" y2="68.3" stroke="#333" stroke-width="0.8"/>
<line x1="344.5" y1="66.5" x2="344.5" y2="68.3" stroke="#333" stroke-width="0.8"/>
<line x1="350.5" y1="66.5" x2="350.5" y2="68.3" stroke="#333" stroke-width="0.8"/>
<line x1="356.5" y1="66.5" x2="356.5" y2="68.3" stroke="#333" stroke-width="0.8"/>
<line x1="363.5" y1="66.5" x2="363.5" y2="68.3" stroke="#333" stroke-width="0.8"/>
<line x1="369.5" y1="66.5" x2="369.5" y2="68.3" stroke="#333" stroke-width="0.8"/>
<line x1="375.5" y1="66.5" x2="375.5" y2="69.5" stroke="#333" stroke-width="1"/>
<text x="375.6" y="77.8" font-size="7.2" text-anchor="middle" fill="#222" stroke="#222" stroke-width="0.2">1000</text>
<line x1="381.5" y1="66.5" x2="381.5" y2="68.3" stroke="#333" stroke-width="0.8"/>
<line x1="388.5" y1="66.5" x2="388.5" y2="68.3" stroke="#333" stroke-width="0.8"/>
<line x1="394.5" y1="66.5" x2="394.5" y2="68.3" stroke="#333" stroke-width="0.8"/>
<line x1="400.5" y1="66.5" x2="400.5" y2="68.3" stroke="#333" stroke-width="0.8"/>
<line x1="407.5" y1="66.5" x2="407.5" y2="68.3" stroke="#333" stroke-width="0.8"/>
<line x1="413.5" y1="66.5" x2="413.5" y2="68.3" stroke="#333" stroke-width="0.8"/>
<line x1="419.5" y1="66.5" x2="419.5" y2="68.3" stroke="#333" stroke-width="0.8"/>
<line x1="426.5" y1="66.5" x2="426.5" y2="68.3" stroke="#333" stroke-width="0.8"/>
<line x1="432.5" y1="66.5" x2="432.5" y2="68.3" stroke="#333" stroke-width="0.8"/>
<line x1="438.5" y1="66.5" x2="438.5" y2="69.5" stroke="#333" stroke-width="1"/>
<text x="438.6" y="77.8" font-size="7.2" text-anchor="middle" fill="#222" stroke="#222" stroke-width="0.2">2000</text>
<line x1="444.5" y1="66.5" x2="444.5" y2="68.3" stroke="#333" stroke-width="0.8"/>
<line x1="451.5" y1="66.5" x2="451.5" y2="68.3" stroke="#333" stroke-width="0.8"/>
<line x1="457.5" y1="66.5" x2="457.5" y2="68.3" stroke="#333" stroke-width="0.8"/>
<line x1="463.5" y1="66.5" x2="463.5" y2="68.3" stroke="#333" stroke-width="0.8"/>
<line x1="470.5" y1="66.5" x2="470.5" y2="68.3" stroke="#333" stroke-width="0.8"/>
<line x1="476.5" y1="66.5" x2="476.5" y2="68.3" stroke="#333" stroke-width="0.8"/>
<line x1="482.5" y1="66.5" x2="482.5" y2="68.3" stroke="#333" stroke-width="0.8"/>
<line x1="489.5" y1="66.5" x2="489.5" y2="68.3" stroke="#333" stroke-width="0.8"/>
<line x1="495.5" y1="66.5" x2="495.5" y2="68.3" stroke="#333" stroke-width="0.8"/>
<line x1="501.5" y1="66.5" x2="501.5" y2="69.5" stroke="#333" stroke-width="1"/>
<text x="501.6" y="77.8" font-size="7.2" text-anchor="middle" fill="#222" stroke="#222" stroke-width="0.2">3000</text>
<line x1="507.5" y1="66.5" x2="507.5" y2="68.3" stroke="#333" stroke-width="0.8"/>
<line x1="514.5" y1="66.5" x2="514.5" y2="68.3" stroke="#333" stroke-width="0.8"/>
<line x1="520.5" y1="66.5" x2="520.5" y2="68.3" stroke="#333" stroke-width="0.8"/>
<line x1="526.5" y1="66.5" x2="526.5" y2="68.3" stroke="#333" stroke-width="0.8"/>
<line x1="533.5" y1="66.5" x2="533.5" y2="68.3" stroke="#333" stroke-width="0.8"/>
<line x1="539.5" y1="66.5" x2="539.5" y2="68.3" stroke="#333" stroke-width="0.8"/>
<line x1="545.5" y1="66.5" x2="545.5" y2="68.3" stroke="#333" stroke-width="0.8"/>
<line x1="552.5" y1="66.5" x2="552.5" y2="68.3" stroke="#333" stroke-width="0.8"/>
<text x="289.8" y="50.95" font-size="7.6" text-anchor="middle" fill="#222" stroke="#222" stroke-width="0.2" transform="rotate(-90 289.8 50.95)" dominant-baseline="central">% mCG</text>
<text x="432.45" y="31" font-size="7.9" text-anchor="middle" fill="#222" stroke="#222" stroke-width="0.2">A. thaliana (AT1G65810)</text>
<line x1="312" y1="102.5" x2="552.3" y2="102.5" stroke="#505050" stroke-width="0.9" stroke-dasharray="1.4,0.6"/>
<line x1="312" y1="123.5" x2="552.3" y2="123.5" stroke="#707070" stroke-width="0.9" stroke-dasharray="1.4,0.6"/>
<rect x="334.8" y="115" width="1.2" height="11.5" fill="#e21c24"/>
<rect x="342.8" y="110" width="1.2" height="16.5" fill="#e21c24"/>
<rect x="360" y="108" width="1.2" height="18.5" fill="#e21c24"/>
<rect x="363.8" y="98.4" width="1.2" height="28.1" fill="#c4162a"/>
<rect x="364.8" y="99.6" width="1.2" height="26.9" fill="#c4162a"/>
<rect x="371.8" y="106" width="1.2" height="20.5" fill="#e21c24"/>
<rect x="372.6" y="103" width="1.2" height="23.5" fill="#e21c24"/>
<rect x="374.8" y="102.4" width="1.2" height="24.1" fill="#e21c24"/>
<rect x="382.8" y="102.4" width="1.2" height="24.1" fill="#e21c24"/>
<rect x="383.8" y="102.4" width="1.2" height="24.1" fill="#e21c24"/>
<rect x="386" y="102.4" width="1.2" height="24.1" fill="#e21c24"/>
<rect x="386.8" y="102.4" width="1.2" height="24.1" fill="#e21c24"/>
<rect x="389.8" y="102.4" width="1.2" height="24.1" fill="#e21c24"/>
<rect x="391.8" y="102.4" width="1.2" height="24.1" fill="#ee7478"/>
<rect x="392.8" y="104" width="1.2" height="22.5" fill="#ee7478"/>
<rect x="396.8" y="104.4" width="1.2" height="22.1" fill="#e21c24"/>
<rect x="397.8" y="104.4" width="1.2" height="22.1" fill="#e21c24"/>
<rect x="406.8" y="100" width="1.2" height="26.5" fill="#e21c24"/>
<rect x="415.4" y="98.4" width="1.2" height="28.1" fill="#e21c24"/>
<rect x="416.8" y="101" width="1.2" height="25.5" fill="#e21c24"/>
<rect x="418.4" y="101" width="1.2" height="25.5" fill="#e21c24"/>
<rect x="430.8" y="101" width="1.2" height="25.5" fill="#e21c24"/>
<rect x="432.6" y="101" width="1.2" height="25.5" fill="#e21c24"/>
<rect x="433.8" y="100.4" width="1.2" height="26.1" fill="#e21c24"/>
<rect x="435" y="100.4" width="1.2" height="26.1" fill="#e21c24"/>
<rect x="443" y="100.4" width="1.2" height="26.1" fill="#e21c24"/>
<rect x="444.4" y="100.4" width="1.2" height="26.1" fill="#e21c24"/>
<rect x="448.4" y="104.4" width="1.2" height="22.1" fill="#e21c24"/>
<rect x="455.4" y="98.4" width="1.2" height="28.1" fill="#e21c24"/>
<rect x="464" y="100.4" width="1.2" height="26.1" fill="#e21c24"/>
<rect x="465.4" y="100.4" width="1.2" height="26.1" fill="#e21c24"/>
<rect x="466.4" y="100.4" width="1.2" height="26.1" fill="#e21c24"/>
<rect x="471.4" y="100.4" width="1.2" height="26.1" fill="#e21c24"/>
<rect x="472.8" y="100.4" width="1.2" height="26.1" fill="#e21c24"/>
<rect x="485.4" y="100.4" width="1.2" height="26.1" fill="#e21c24"/>
<rect x="490.4" y="100.4" width="1.2" height="26.1" fill="#ee7478"/>
<rect x="493" y="100.4" width="1.2" height="26.1" fill="#e21c24"/>
<rect x="505.8" y="102.4" width="1.2" height="24.1" fill="#e21c24"/>
<rect x="511.4" y="107" width="1.2" height="19.5" fill="#e21c24"/>
<rect x="512.4" y="107" width="1.2" height="19.5" fill="#e21c24"/>
<line x1="312.5" y1="97.8" x2="312.5" y2="129" stroke="#777" stroke-width="1"/>
<line x1="312.6" y1="126.5" x2="552.3" y2="126.5" stroke="#333" stroke-width="1"/>
<line x1="309.6" y1="126.5" x2="312.5" y2="126.5" stroke="#333" stroke-width="1"/>
<text x="308.8" y="129.4" font-size="7.1" text-anchor="end" fill="#222" stroke="#222" stroke-width="0.2">0</text>
<line x1="309.6" y1="112.5" x2="312.5" y2="112.5" stroke="#333" stroke-width="1"/>
<text x="308.8" y="115.05" font-size="7.1" text-anchor="end" fill="#222" stroke="#222" stroke-width="0.2">50</text>
<line x1="309.6" y1="97.5" x2="312.5" y2="97.5" stroke="#333" stroke-width="1"/>
<text x="308.8" y="100.7" font-size="7.1" text-anchor="end" fill="#222" stroke="#222" stroke-width="0.2">100</text>
<line x1="312.5" y1="126.5" x2="312.5" y2="129.5" stroke="#333" stroke-width="1"/>
<text x="312.6" y="137.8" font-size="7.2" text-anchor="middle" fill="#222" stroke="#222" stroke-width="0.2">0</text>
<line x1="318.5" y1="126.5" x2="318.5" y2="128.3" stroke="#333" stroke-width="0.8"/>
<line x1="325.5" y1="126.5" x2="325.5" y2="128.3" stroke="#333" stroke-width="0.8"/>
<line x1="331.5" y1="126.5" x2="331.5" y2="128.3" stroke="#333" stroke-width="0.8"/>
<line x1="337.5" y1="126.5" x2="337.5" y2="128.3" stroke="#333" stroke-width="0.8"/>
<line x1="344.5" y1="126.5" x2="344.5" y2="128.3" stroke="#333" stroke-width="0.8"/>
<line x1="350.5" y1="126.5" x2="350.5" y2="128.3" stroke="#333" stroke-width="0.8"/>
<line x1="356.5" y1="126.5" x2="356.5" y2="128.3" stroke="#333" stroke-width="0.8"/>
<line x1="363.5" y1="126.5" x2="363.5" y2="128.3" stroke="#333" stroke-width="0.8"/>
<line x1="369.5" y1="126.5" x2="369.5" y2="128.3" stroke="#333" stroke-width="0.8"/>
<line x1="375.5" y1="126.5" x2="375.5" y2="129.5" stroke="#333" stroke-width="1"/>
<text x="375.6" y="137.8" font-size="7.2" text-anchor="middle" fill="#222" stroke="#222" stroke-width="0.2">1000</text>
<line x1="381.5" y1="126.5" x2="381.5" y2="128.3" stroke="#333" stroke-width="0.8"/>
<line x1="388.5" y1="126.5" x2="388.5" y2="128.3" stroke="#333" stroke-width="0.8"/>
<line x1="394.5" y1="126.5" x2="394.5" y2="128.3" stroke="#333" stroke-width="0.8"/>
<line x1="400.5" y1="126.5" x2="400.5" y2="128.3" stroke="#333" stroke-width="0.8"/>
<line x1="407.5" y1="126.5" x2="407.5" y2="128.3" stroke="#333" stroke-width="0.8"/>
<line x1="413.5" y1="126.5" x2="413.5" y2="128.3" stroke="#333" stroke-width="0.8"/>
<line x1="419.5" y1="126.5" x2="419.5" y2="128.3" stroke="#333" stroke-width="0.8"/>
<line x1="426.5" y1="126.5" x2="426.5" y2="128.3" stroke="#333" stroke-width="0.8"/>
<line x1="432.5" y1="126.5" x2="432.5" y2="128.3" stroke="#333" stroke-width="0.8"/>
<line x1="438.5" y1="126.5" x2="438.5" y2="129.5" stroke="#333" stroke-width="1"/>
<text x="438.6" y="137.8" font-size="7.2" text-anchor="middle" fill="#222" stroke="#222" stroke-width="0.2">2000</text>
<line x1="444.5" y1="126.5" x2="444.5" y2="128.3" stroke="#333" stroke-width="0.8"/>
<line x1="451.5" y1="126.5" x2="451.5" y2="128.3" stroke="#333" stroke-width="0.8"/>
<line x1="457.5" y1="126.5" x2="457.5" y2="128.3" stroke="#333" stroke-width="0.8"/>
<line x1="463.5" y1="126.5" x2="463.5" y2="128.3" stroke="#333" stroke-width="0.8"/>
<line x1="470.5" y1="126.5" x2="470.5" y2="128.3" stroke="#333" stroke-width="0.8"/>
<line x1="476.5" y1="126.5" x2="476.5" y2="128.3" stroke="#333" stroke-width="0.8"/>
<line x1="482.5" y1="126.5" x2="482.5" y2="128.3" stroke="#333" stroke-width="0.8"/>
<line x1="489.5" y1="126.5" x2="489.5" y2="128.3" stroke="#333" stroke-width="0.8"/>
<line x1="495.5" y1="126.5" x2="495.5" y2="128.3" stroke="#333" stroke-width="0.8"/>
<line x1="501.5" y1="126.5" x2="501.5" y2="129.5" stroke="#333" stroke-width="1"/>
<text x="501.6" y="137.8" font-size="7.2" text-anchor="middle" fill="#222" stroke="#222" stroke-width="0.2">3000</text>
<line x1="507.5" y1="126.5" x2="507.5" y2="128.3" stroke="#333" stroke-width="0.8"/>
<line x1="514.5" y1="126.5" x2="514.5" y2="128.3" stroke="#333" stroke-width="0.8"/>
<line x1="520.5" y1="126.5" x2="520.5" y2="128.3" stroke="#333" stroke-width="0.8"/>
<line x1="526.5" y1="126.5" x2="526.5" y2="128.3" stroke="#333" stroke-width="0.8"/>
<line x1="533.5" y1="126.5" x2="533.5" y2="128.3" stroke="#333" stroke-width="0.8"/>
<line x1="539.5" y1="126.5" x2="539.5" y2="128.3" stroke="#333" stroke-width="0.8"/>
<line x1="545.5" y1="126.5" x2="545.5" y2="128.3" stroke="#333" stroke-width="0.8"/>
<line x1="552.5" y1="126.5" x2="552.5" y2="128.3" stroke="#333" stroke-width="0.8"/>
<text x="289.8" y="110.95" font-size="7.6" text-anchor="middle" fill="#222" stroke="#222" stroke-width="0.2" transform="rotate(-90 289.8 110.95)" dominant-baseline="central">% mCG</text>
<text x="432.45" y="91" font-size="7.9" text-anchor="middle" fill="#222" stroke="#222" stroke-width="0.2"><tspan font-style="italic">A. lyrata</tspan> (AL2G23100)</text>
<line x1="312" y1="162.5" x2="552.3" y2="162.5" stroke="#505050" stroke-width="0.9" stroke-dasharray="1.4,0.6"/>
<line x1="312" y1="183.5" x2="552.3" y2="183.5" stroke="#707070" stroke-width="0.9" stroke-dasharray="1.4,0.6"/>
<rect x="315.8" y="168.4" width="1.2" height="18.1" fill="#e21c24"/>
<rect x="316.6" y="170" width="1.2" height="16.5" fill="#e21c24"/>
<rect x="352.4" y="183.6" width="1.2" height="2.9" fill="#ee7478"/>
<rect x="363.8" y="176" width="1.2" height="10.5" fill="#e21c24"/>
<rect x="365" y="168" width="1.2" height="18.5" fill="#ee7478"/>
<rect x="371.8" y="161" width="1.2" height="25.5" fill="#e21c24"/>
<rect x="375.4" y="162.4" width="1.2" height="24.1" fill="#e21c24"/>
<rect x="376.2" y="170" width="1.2" height="16.5" fill="#e21c24"/>
<rect x="377" y="170" width="1.2" height="16.5" fill="#ee7478"/>
<rect x="386.8" y="164.4" width="1.2" height="22.1" fill="#c4162a"/>
<rect x="387.8" y="164.4" width="1.2" height="22.1" fill="#c4162a"/>
<rect x="408.8" y="161" width="1.2" height="25.5" fill="#e21c24"/>
<rect x="409.8" y="167" width="1.2" height="19.5" fill="#ee7478"/>
<rect x="426" y="164.4" width="1.2" height="22.1" fill="#e21c24"/>
<rect x="427" y="164.4" width="1.2" height="22.1" fill="#e21c24"/>
<rect x="428" y="165.6" width="1.2" height="20.9" fill="#e21c24"/>
<rect x="428.8" y="166" width="1.2" height="20.5" fill="#e21c24"/>
<rect x="447.8" y="162.4" width="1.2" height="24.1" fill="#e21c24"/>
<rect x="449.8" y="162.4" width="1.2" height="24.1" fill="#ee7478"/>
<rect x="450.8" y="162.4" width="1.2" height="24.1" fill="#e21c24"/>
<rect x="458" y="164" width="1.2" height="22.5" fill="#e21c24"/>
<rect x="459" y="164" width="1.2" height="22.5" fill="#e21c24"/>
<rect x="460" y="165" width="1.2" height="21.5" fill="#e21c24"/>
<rect x="461" y="166" width="1.2" height="20.5" fill="#e21c24"/>
<rect x="462" y="164" width="1.2" height="22.5" fill="#e21c24"/>
<rect x="463" y="166" width="1.2" height="20.5" fill="#e21c24"/>
<rect x="466.8" y="167" width="1.2" height="19.5" fill="#e21c24"/>
<rect x="468.4" y="164.4" width="1.2" height="22.1" fill="#e21c24"/>
<rect x="469.4" y="164.4" width="1.2" height="22.1" fill="#e21c24"/>
<rect x="487.4" y="160" width="1.2" height="26.5" fill="#e21c24"/>
<rect x="488.8" y="162.4" width="1.2" height="24.1" fill="#e21c24"/>
<rect x="490.4" y="163" width="1.2" height="23.5" fill="#e21c24"/>
<rect x="504.4" y="165.6" width="1.2" height="20.9" fill="#e21c24"/>
<line x1="312.5" y1="157.8" x2="312.5" y2="189" stroke="#777" stroke-width="1"/>
<line x1="312.6" y1="186.5" x2="552.3" y2="186.5" stroke="#333" stroke-width="1"/>
<line x1="309.6" y1="186.5" x2="312.5" y2="186.5" stroke="#333" stroke-width="1"/>
<text x="308.8" y="189.4" font-size="7.1" text-anchor="end" fill="#222" stroke="#222" stroke-width="0.2">0</text>
<line x1="309.6" y1="172.5" x2="312.5" y2="172.5" stroke="#333" stroke-width="1"/>
<text x="308.8" y="175.05" font-size="7.1" text-anchor="end" fill="#222" stroke="#222" stroke-width="0.2">50</text>
<line x1="309.6" y1="157.5" x2="312.5" y2="157.5" stroke="#333" stroke-width="1"/>
<text x="308.8" y="160.7" font-size="7.1" text-anchor="end" fill="#222" stroke="#222" stroke-width="0.2">100</text>
<line x1="312.5" y1="186.5" x2="312.5" y2="189.5" stroke="#333" stroke-width="1"/>
<text x="312.6" y="197.8" font-size="7.2" text-anchor="middle" fill="#222" stroke="#222" stroke-width="0.2">0</text>
<line x1="319.5" y1="186.5" x2="319.5" y2="188.3" stroke="#333" stroke-width="0.8"/>
<line x1="326.5" y1="186.5" x2="326.5" y2="188.3" stroke="#333" stroke-width="0.8"/>
<line x1="332.5" y1="186.5" x2="332.5" y2="188.3" stroke="#333" stroke-width="0.8"/>
<line x1="339.5" y1="186.5" x2="339.5" y2="188.3" stroke="#333" stroke-width="0.8"/>
<line x1="346.5" y1="186.5" x2="346.5" y2="188.3" stroke="#333" stroke-width="0.8"/>
<line x1="353.5" y1="186.5" x2="353.5" y2="188.3" stroke="#333" stroke-width="0.8"/>
<line x1="359.5" y1="186.5" x2="359.5" y2="188.3" stroke="#333" stroke-width="0.8"/>
<line x1="366.5" y1="186.5" x2="366.5" y2="188.3" stroke="#333" stroke-width="0.8"/>
<line x1="373.5" y1="186.5" x2="373.5" y2="188.3" stroke="#333" stroke-width="0.8"/>
<line x1="380.5" y1="186.5" x2="380.5" y2="189.5" stroke="#333" stroke-width="1"/>
<text x="380.1" y="197.8" font-size="7.2" text-anchor="middle" fill="#222" stroke="#222" stroke-width="0.2">1000</text>
<line x1="386.5" y1="186.5" x2="386.5" y2="188.3" stroke="#333" stroke-width="0.8"/>
<line x1="393.5" y1="186.5" x2="393.5" y2="188.3" stroke="#333" stroke-width="0.8"/>
<line x1="400.5" y1="186.5" x2="400.5" y2="188.3" stroke="#333" stroke-width="0.8"/>
<line x1="407.5" y1="186.5" x2="407.5" y2="188.3" stroke="#333" stroke-width="0.8"/>
<line x1="413.5" y1="186.5" x2="413.5" y2="188.3" stroke="#333" stroke-width="0.8"/>
<line x1="420.5" y1="186.5" x2="420.5" y2="188.3" stroke="#333" stroke-width="0.8"/>
<line x1="427.5" y1="186.5" x2="427.5" y2="188.3" stroke="#333" stroke-width="0.8"/>
<line x1="434.5" y1="186.5" x2="434.5" y2="188.3" stroke="#333" stroke-width="0.8"/>
<line x1="440.5" y1="186.5" x2="440.5" y2="188.3" stroke="#333" stroke-width="0.8"/>
<line x1="447.5" y1="186.5" x2="447.5" y2="189.5" stroke="#333" stroke-width="1"/>
<text x="447.6" y="197.8" font-size="7.2" text-anchor="middle" fill="#222" stroke="#222" stroke-width="0.2">2000</text>
<line x1="454.5" y1="186.5" x2="454.5" y2="188.3" stroke="#333" stroke-width="0.8"/>
<line x1="461.5" y1="186.5" x2="461.5" y2="188.3" stroke="#333" stroke-width="0.8"/>
<line x1="467.5" y1="186.5" x2="467.5" y2="188.3" stroke="#333" stroke-width="0.8"/>
<line x1="474.5" y1="186.5" x2="474.5" y2="188.3" stroke="#333" stroke-width="0.8"/>
<line x1="481.5" y1="186.5" x2="481.5" y2="188.3" stroke="#333" stroke-width="0.8"/>
<line x1="488.5" y1="186.5" x2="488.5" y2="188.3" stroke="#333" stroke-width="0.8"/>
<line x1="494.5" y1="186.5" x2="494.5" y2="188.3" stroke="#333" stroke-width="0.8"/>
<line x1="501.5" y1="186.5" x2="501.5" y2="188.3" stroke="#333" stroke-width="0.8"/>
<line x1="508.5" y1="186.5" x2="508.5" y2="188.3" stroke="#333" stroke-width="0.8"/>
<line x1="515.5" y1="186.5" x2="515.5" y2="189.5" stroke="#333" stroke-width="1"/>
<text x="515.1" y="197.8" font-size="7.2" text-anchor="middle" fill="#222" stroke="#222" stroke-width="0.2">3000</text>
<line x1="521.5" y1="186.5" x2="521.5" y2="188.3" stroke="#333" stroke-width="0.8"/>
<line x1="528.5" y1="186.5" x2="528.5" y2="188.3" stroke="#333" stroke-width="0.8"/>
<line x1="535.5" y1="186.5" x2="535.5" y2="188.3" stroke="#333" stroke-width="0.8"/>
<line x1="542.5" y1="186.5" x2="542.5" y2="188.3" stroke="#333" stroke-width="0.8"/>
<line x1="548.5" y1="186.5" x2="548.5" y2="188.3" stroke="#333" stroke-width="0.8"/>
<text x="289.8" y="170.95" font-size="7.6" text-anchor="middle" fill="#222" stroke="#222" stroke-width="0.2" transform="rotate(-90 289.8 170.95)" dominant-baseline="central">% mCG</text>
<text x="432.45" y="151" font-size="7.9" text-anchor="middle" fill="#222" stroke="#222" stroke-width="0.2"><tspan font-style="italic">C. rubella</tspan> (Carub.0002s1168)</text>
<line x1="312" y1="222.5" x2="552.3" y2="222.5" stroke="#505050" stroke-width="0.9" stroke-dasharray="1.4,0.6"/>
<line x1="312" y1="243.5" x2="552.3" y2="243.5" stroke="#707070" stroke-width="0.9" stroke-dasharray="1.4,0.6"/>
<line x1="312.5" y1="217.8" x2="312.5" y2="249" stroke="#777" stroke-width="1"/>
<line x1="312.6" y1="246.5" x2="552.3" y2="246.5" stroke="#333" stroke-width="1"/>
<line x1="309.6" y1="246.5" x2="312.5" y2="246.5" stroke="#333" stroke-width="1"/>
<text x="308.8" y="249.4" font-size="7.1" text-anchor="end" fill="#222" stroke="#222" stroke-width="0.2">0</text>
<line x1="309.6" y1="232.5" x2="312.5" y2="232.5" stroke="#333" stroke-width="1"/>
<text x="308.8" y="235.05" font-size="7.1" text-anchor="end" fill="#222" stroke="#222" stroke-width="0.2">50</text>
<line x1="309.6" y1="217.5" x2="312.5" y2="217.5" stroke="#333" stroke-width="1"/>
<text x="308.8" y="220.7" font-size="7.1" text-anchor="end" fill="#222" stroke="#222" stroke-width="0.2">100</text>
<line x1="312.5" y1="246.5" x2="312.5" y2="249.5" stroke="#333" stroke-width="1"/>
<text x="312.6" y="257.8" font-size="7.2" text-anchor="middle" fill="#222" stroke="#222" stroke-width="0.2">0</text>
<line x1="321.5" y1="246.5" x2="321.5" y2="248.3" stroke="#333" stroke-width="0.8"/>
<line x1="331.5" y1="246.5" x2="331.5" y2="248.3" stroke="#333" stroke-width="0.8"/>
<line x1="340.5" y1="246.5" x2="340.5" y2="248.3" stroke="#333" stroke-width="0.8"/>
<line x1="350.5" y1="246.5" x2="350.5" y2="248.3" stroke="#333" stroke-width="0.8"/>
<line x1="359.5" y1="246.5" x2="359.5" y2="248.3" stroke="#333" stroke-width="0.8"/>
<line x1="368.5" y1="246.5" x2="368.5" y2="248.3" stroke="#333" stroke-width="0.8"/>
<line x1="378.5" y1="246.5" x2="378.5" y2="248.3" stroke="#333" stroke-width="0.8"/>
<line x1="387.5" y1="246.5" x2="387.5" y2="248.3" stroke="#333" stroke-width="0.8"/>
<line x1="397.5" y1="246.5" x2="397.5" y2="248.3" stroke="#333" stroke-width="0.8"/>
<line x1="406.5" y1="246.5" x2="406.5" y2="249.5" stroke="#333" stroke-width="1"/>
<text x="406.4" y="257.8" font-size="7.2" text-anchor="middle" fill="#222" stroke="#222" stroke-width="0.2">2000</text>
<line x1="415.5" y1="246.5" x2="415.5" y2="248.3" stroke="#333" stroke-width="0.8"/>
<line x1="425.5" y1="246.5" x2="425.5" y2="248.3" stroke="#333" stroke-width="0.8"/>
<line x1="434.5" y1="246.5" x2="434.5" y2="248.3" stroke="#333" stroke-width="0.8"/>
<line x1="443.5" y1="246.5" x2="443.5" y2="248.3" stroke="#333" stroke-width="0.8"/>
<line x1="453.5" y1="246.5" x2="453.5" y2="248.3" stroke="#333" stroke-width="0.8"/>
<line x1="462.5" y1="246.5" x2="462.5" y2="248.3" stroke="#333" stroke-width="0.8"/>
<line x1="472.5" y1="246.5" x2="472.5" y2="248.3" stroke="#333" stroke-width="0.8"/>
<line x1="481.5" y1="246.5" x2="481.5" y2="248.3" stroke="#333" stroke-width="0.8"/>
<line x1="490.5" y1="246.5" x2="490.5" y2="248.3" stroke="#333" stroke-width="0.8"/>
<line x1="500.5" y1="246.5" x2="500.5" y2="249.5" stroke="#333" stroke-width="1"/>
<text x="500.2" y="257.8" font-size="7.2" text-anchor="middle" fill="#222" stroke="#222" stroke-width="0.2">4000</text>
<line x1="509.5" y1="246.5" x2="509.5" y2="248.3" stroke="#333" stroke-width="0.8"/>
<line x1="518.5" y1="246.5" x2="518.5" y2="248.3" stroke="#333" stroke-width="0.8"/>
<line x1="528.5" y1="246.5" x2="528.5" y2="248.3" stroke="#333" stroke-width="0.8"/>
<line x1="537.5" y1="246.5" x2="537.5" y2="248.3" stroke="#333" stroke-width="0.8"/>
<line x1="547.5" y1="246.5" x2="547.5" y2="248.3" stroke="#333" stroke-width="0.8"/>
<text x="289.8" y="230.95" font-size="7.6" text-anchor="middle" fill="#222" stroke="#222" stroke-width="0.2" transform="rotate(-90 289.8 230.95)" dominant-baseline="central">% mCG</text>
<text x="432.45" y="211" font-size="7.9" text-anchor="middle" fill="#222" stroke="#222" stroke-width="0.2"><tspan font-style="italic">T. cacao</tspan> (Thecc.05G186800)</text>
<line x1="312" y1="282.5" x2="552.3" y2="282.5" stroke="#505050" stroke-width="0.9" stroke-dasharray="1.4,0.6"/>
<line x1="312" y1="303.5" x2="552.3" y2="303.5" stroke="#707070" stroke-width="0.9" stroke-dasharray="1.4,0.6"/>
<rect x="317" y="290.4" width="1.2" height="16.1" fill="#ee7478"/>
<rect x="321" y="291" width="1.2" height="15.5" fill="#ee7478"/>
<rect x="332.4" y="287" width="1.2" height="19.5" fill="#e64a50"/>
<rect x="341.4" y="285.6" width="1.2" height="20.9" fill="#e21c24"/>
<rect x="359.4" y="282.4" width="1.2" height="24.1" fill="#ee7478"/>
<rect x="371" y="278.4" width="1.2" height="28.1" fill="#ee7478"/>
<rect x="374" y="278.4" width="1.2" height="28.1" fill="#ee7478"/>
<rect x="385" y="284" width="1.2" height="22.5" fill="#e21c24"/>
<rect x="399.8" y="278.4" width="1.2" height="28.1" fill="#c4162a"/>
<rect x="400.6" y="278.4" width="1.2" height="28.1" fill="#c4162a"/>
<rect x="407.8" y="278.4" width="1.2" height="28.1" fill="#e21c24"/>
<rect x="413" y="278.4" width="1.2" height="28.1" fill="#e21c24"/>
<rect x="421.8" y="278.4" width="1.2" height="28.1" fill="#e21c24"/>
<rect x="440.8" y="285" width="1.2" height="21.5" fill="#e21c24"/>
<rect x="450.4" y="280" width="1.2" height="26.5" fill="#c4162a"/>
<rect x="451.4" y="279" width="1.2" height="27.5" fill="#c4162a"/>
<rect x="454" y="283.6" width="1.2" height="22.9" fill="#ee7478"/>
<rect x="457.8" y="281.6" width="1.2" height="24.9" fill="#e21c24"/>
<rect x="468.8" y="278.4" width="1.2" height="28.1" fill="#e64a50"/>
<rect x="470.8" y="278.4" width="1.2" height="28.1" fill="#ee7478"/>
<rect x="471.8" y="278.4" width="1.2" height="28.1" fill="#ee7478"/>
<rect x="480.8" y="278.4" width="1.2" height="28.1" fill="#e21c24"/>
<rect x="488" y="278.4" width="1.2" height="28.1" fill="#e21c24"/>
<rect x="491.8" y="282.4" width="1.2" height="24.1" fill="#ee7478"/>
<rect x="517" y="278.4" width="1.2" height="28.1" fill="#ee7478"/>
<rect x="521.8" y="284" width="1.2" height="22.5" fill="#e21c24"/>
<rect x="523.8" y="282.4" width="1.2" height="24.1" fill="#e21c24"/>
<rect x="528.4" y="278.4" width="1.2" height="28.1" fill="#c4162a"/>
<rect x="529.2" y="278.4" width="1.2" height="28.1" fill="#c4162a"/>
<line x1="312.5" y1="277.8" x2="312.5" y2="309" stroke="#777" stroke-width="1"/>
<line x1="312.6" y1="306.5" x2="552.3" y2="306.5" stroke="#333" stroke-width="1"/>
<line x1="309.6" y1="306.5" x2="312.5" y2="306.5" stroke="#333" stroke-width="1"/>
<text x="308.8" y="309.4" font-size="7.1" text-anchor="end" fill="#222" stroke="#222" stroke-width="0.2">0</text>
<line x1="309.6" y1="292.5" x2="312.5" y2="292.5" stroke="#333" stroke-width="1"/>
<text x="308.8" y="295.05" font-size="7.1" text-anchor="end" fill="#222" stroke="#222" stroke-width="0.2">50</text>
<line x1="309.6" y1="277.5" x2="312.5" y2="277.5" stroke="#333" stroke-width="1"/>
<text x="308.8" y="280.7" font-size="7.1" text-anchor="end" fill="#222" stroke="#222" stroke-width="0.2">100</text>
<line x1="312.5" y1="306.5" x2="312.5" y2="309.5" stroke="#333" stroke-width="1"/>
<text x="312.6" y="317.8" font-size="7.2" text-anchor="middle" fill="#222" stroke="#222" stroke-width="0.2">0</text>
<line x1="319.5" y1="306.5" x2="319.5" y2="308.3" stroke="#333" stroke-width="0.8"/>
<line x1="326.5" y1="306.5" x2="326.5" y2="308.3" stroke="#333" stroke-width="0.8"/>
<line x1="332.5" y1="306.5" x2="332.5" y2="308.3" stroke="#333" stroke-width="0.8"/>
<line x1="339.5" y1="306.5" x2="339.5" y2="308.3" stroke="#333" stroke-width="0.8"/>
<line x1="346.5" y1="306.5" x2="346.5" y2="308.3" stroke="#333" stroke-width="0.8"/>
<line x1="352.5" y1="306.5" x2="352.5" y2="308.3" stroke="#333" stroke-width="0.8"/>
<line x1="359.5" y1="306.5" x2="359.5" y2="308.3" stroke="#333" stroke-width="0.8"/>
<line x1="366.5" y1="306.5" x2="366.5" y2="308.3" stroke="#333" stroke-width="0.8"/>
<line x1="373.5" y1="306.5" x2="373.5" y2="308.3" stroke="#333" stroke-width="0.8"/>
<line x1="379.5" y1="306.5" x2="379.5" y2="309.5" stroke="#333" stroke-width="1"/>
<text x="379.8" y="317.8" font-size="7.2" text-anchor="middle" fill="#222" stroke="#222" stroke-width="0.2">1000</text>
<line x1="386.5" y1="306.5" x2="386.5" y2="308.3" stroke="#333" stroke-width="0.8"/>
<line x1="393.5" y1="306.5" x2="393.5" y2="308.3" stroke="#333" stroke-width="0.8"/>
<line x1="399.5" y1="306.5" x2="399.5" y2="308.3" stroke="#333" stroke-width="0.8"/>
<line x1="406.5" y1="306.5" x2="406.5" y2="308.3" stroke="#333" stroke-width="0.8"/>
<line x1="413.5" y1="306.5" x2="413.5" y2="308.3" stroke="#333" stroke-width="0.8"/>
<line x1="420.5" y1="306.5" x2="420.5" y2="308.3" stroke="#333" stroke-width="0.8"/>
<line x1="426.5" y1="306.5" x2="426.5" y2="308.3" stroke="#333" stroke-width="0.8"/>
<line x1="433.5" y1="306.5" x2="433.5" y2="308.3" stroke="#333" stroke-width="0.8"/>
<line x1="440.5" y1="306.5" x2="440.5" y2="308.3" stroke="#333" stroke-width="0.8"/>
<line x1="447.5" y1="306.5" x2="447.5" y2="309.5" stroke="#333" stroke-width="1"/>
<text x="447" y="317.8" font-size="7.2" text-anchor="middle" fill="#222" stroke="#222" stroke-width="0.2">2000</text>
<line x1="453.5" y1="306.5" x2="453.5" y2="308.3" stroke="#333" stroke-width="0.8"/>
<line x1="460.5" y1="306.5" x2="460.5" y2="308.3" stroke="#333" stroke-width="0.8"/>
<line x1="467.5" y1="306.5" x2="467.5" y2="308.3" stroke="#333" stroke-width="0.8"/>
<line x1="473.5" y1="306.5" x2="473.5" y2="308.3" stroke="#333" stroke-width="0.8"/>
<line x1="480.5" y1="306.5" x2="480.5" y2="308.3" stroke="#333" stroke-width="0.8"/>
<line x1="487.5" y1="306.5" x2="487.5" y2="308.3" stroke="#333" stroke-width="0.8"/>
<line x1="494.5" y1="306.5" x2="494.5" y2="308.3" stroke="#333" stroke-width="0.8"/>
<line x1="500.5" y1="306.5" x2="500.5" y2="308.3" stroke="#333" stroke-width="0.8"/>
<line x1="507.5" y1="306.5" x2="507.5" y2="308.3" stroke="#333" stroke-width="0.8"/>
<line x1="514.5" y1="306.5" x2="514.5" y2="309.5" stroke="#333" stroke-width="1"/>
<text x="514.2" y="317.8" font-size="7.2" text-anchor="middle" fill="#222" stroke="#222" stroke-width="0.2">3000</text>
<line x1="520.5" y1="306.5" x2="520.5" y2="308.3" stroke="#333" stroke-width="0.8"/>
<line x1="527.5" y1="306.5" x2="527.5" y2="308.3" stroke="#333" stroke-width="0.8"/>
<line x1="534.5" y1="306.5" x2="534.5" y2="308.3" stroke="#333" stroke-width="0.8"/>
<line x1="541.5" y1="306.5" x2="541.5" y2="308.3" stroke="#333" stroke-width="0.8"/>
<line x1="547.5" y1="306.5" x2="547.5" y2="308.3" stroke="#333" stroke-width="0.8"/>
<text x="289.8" y="290.95" font-size="7.6" text-anchor="middle" fill="#222" stroke="#222" stroke-width="0.2" transform="rotate(-90 289.8 290.95)" dominant-baseline="central">% mCG</text>
<text x="432.45" y="271" font-size="7.9" text-anchor="middle" fill="#222" stroke="#222" stroke-width="0.2">C. <tspan font-style="italic">clementina</tspan> (unannotated)</text>
<line x1="312" y1="342.5" x2="552.3" y2="342.5" stroke="#505050" stroke-width="0.9" stroke-dasharray="1.4,0.6"/>
<line x1="312" y1="363.5" x2="552.3" y2="363.5" stroke="#707070" stroke-width="0.9" stroke-dasharray="1.4,0.6"/>
<rect x="313.4" y="357" width="1.2" height="9.5" fill="#ee7478"/>
<rect x="323.8" y="358" width="1.2" height="8.5" fill="#ee7478"/>
<rect x="324.8" y="356" width="1.2" height="10.5" fill="#e21c24"/>
<rect x="334.8" y="338.4" width="1.2" height="28.1" fill="#ee7478"/>
<rect x="335.8" y="338.4" width="1.2" height="28.1" fill="#ee7478"/>
<rect x="338.8" y="341" width="1.2" height="25.5" fill="#ee7478"/>
<rect x="351.8" y="346.4" width="1.2" height="20.1" fill="#e21c24"/>
<rect x="353.4" y="355.6" width="1.2" height="10.9" fill="#ee7478"/>
<rect x="356" y="347" width="1.2" height="19.5" fill="#ee7478"/>
<rect x="367" y="338.4" width="1.2" height="28.1" fill="#e21c24"/>
<rect x="367.8" y="338.4" width="1.2" height="28.1" fill="#e21c24"/>
<rect x="368.8" y="338.4" width="1.2" height="28.1" fill="#e21c24"/>
<rect x="374" y="353.6" width="1.2" height="12.9" fill="#ee7478"/>
<rect x="395.8" y="349" width="1.2" height="17.5" fill="#e21c24"/>
<rect x="412.4" y="342.4" width="1.2" height="24.1" fill="#ee7478"/>
<rect x="415.8" y="338.4" width="1.2" height="28.1" fill="#e21c24"/>
<rect x="417.8" y="338.4" width="1.2" height="28.1" fill="#e21c24"/>
<rect x="425.4" y="356" width="1.2" height="10.5" fill="#ee7478"/>
<rect x="426.8" y="347.6" width="1.2" height="18.9" fill="#e21c24"/>
<rect x="428.8" y="359" width="1.2" height="7.5" fill="#ee7478"/>
<rect x="432" y="356" width="1.2" height="10.5" fill="#ee7478"/>
<rect x="433.4" y="353.6" width="1.2" height="12.9" fill="#ee7478"/>
<rect x="434.4" y="351" width="1.2" height="15.5" fill="#ee7478"/>
<rect x="441.8" y="346.4" width="1.2" height="20.1" fill="#e21c24"/>
<rect x="448" y="344.4" width="1.2" height="22.1" fill="#e21c24"/>
<rect x="454" y="361.6" width="1.2" height="4.9" fill="#e21c24"/>
<rect x="464.8" y="353.6" width="1.2" height="12.9" fill="#e21c24"/>
<rect x="465.8" y="353.6" width="1.2" height="12.9" fill="#e21c24"/>
<rect x="466.8" y="358" width="1.2" height="8.5" fill="#ee7478"/>
<rect x="481.4" y="347" width="1.2" height="19.5" fill="#e64a50"/>
<rect x="485" y="359" width="1.2" height="7.5" fill="#ee7478"/>
<rect x="501.8" y="350" width="1.2" height="16.5" fill="#e21c24"/>
<rect x="509" y="353" width="1.2" height="13.5" fill="#ee7478"/>
<rect x="526.4" y="338.4" width="1.2" height="28.1" fill="#c4162a"/>
<rect x="527.4" y="351" width="1.2" height="15.5" fill="#e21c24"/>
<rect x="528.8" y="354" width="1.2" height="12.5" fill="#ee7478"/>
<rect x="531.4" y="356.4" width="1.2" height="10.1" fill="#ee7478"/>
<rect x="540" y="348" width="1.2" height="18.5" fill="#ee7478"/>
<rect x="549.4" y="342.4" width="1.2" height="24.1" fill="#ee7478"/>
<rect x="551.6" y="338.4" width="1.2" height="28.1" fill="#e21c24"/>
<line x1="312.5" y1="337.8" x2="312.5" y2="369" stroke="#777" stroke-width="1"/>
<line x1="312.6" y1="366.5" x2="552.3" y2="366.5" stroke="#333" stroke-width="1"/>
<line x1="309.6" y1="366.5" x2="312.5" y2="366.5" stroke="#333" stroke-width="1"/>
<text x="308.8" y="369.4" font-size="7.1" text-anchor="end" fill="#222" stroke="#222" stroke-width="0.2">0</text>
<line x1="309.6" y1="352.5" x2="312.5" y2="352.5" stroke="#333" stroke-width="1"/>
<text x="308.8" y="355.05" font-size="7.1" text-anchor="end" fill="#222" stroke="#222" stroke-width="0.2">50</text>
<line x1="309.6" y1="337.5" x2="312.5" y2="337.5" stroke="#333" stroke-width="1"/>
<text x="308.8" y="340.7" font-size="7.1" text-anchor="end" fill="#222" stroke="#222" stroke-width="0.2">100</text>
<line x1="312.5" y1="366.5" x2="312.5" y2="369.5" stroke="#333" stroke-width="1"/>
<text x="312.6" y="377.8" font-size="7.2" text-anchor="middle" fill="#222" stroke="#222" stroke-width="0.2">0</text>
<line x1="318.5" y1="366.5" x2="318.5" y2="368.3" stroke="#333" stroke-width="0.8"/>
<line x1="324.5" y1="366.5" x2="324.5" y2="368.3" stroke="#333" stroke-width="0.8"/>
<line x1="329.5" y1="366.5" x2="329.5" y2="368.3" stroke="#333" stroke-width="0.8"/>
<line x1="335.5" y1="366.5" x2="335.5" y2="368.3" stroke="#333" stroke-width="0.8"/>
<line x1="341.5" y1="366.5" x2="341.5" y2="368.3" stroke="#333" stroke-width="0.8"/>
<line x1="346.5" y1="366.5" x2="346.5" y2="368.3" stroke="#333" stroke-width="0.8"/>
<line x1="352.5" y1="366.5" x2="352.5" y2="368.3" stroke="#333" stroke-width="0.8"/>
<line x1="358.5" y1="366.5" x2="358.5" y2="368.3" stroke="#333" stroke-width="0.8"/>
<line x1="364.5" y1="366.5" x2="364.5" y2="368.3" stroke="#333" stroke-width="0.8"/>
<line x1="369.5" y1="366.5" x2="369.5" y2="369.5" stroke="#333" stroke-width="1"/>
<text x="369.8" y="377.8" font-size="7.2" text-anchor="middle" fill="#222" stroke="#222" stroke-width="0.2">1000</text>
<line x1="375.5" y1="366.5" x2="375.5" y2="368.3" stroke="#333" stroke-width="0.8"/>
<line x1="381.5" y1="366.5" x2="381.5" y2="368.3" stroke="#333" stroke-width="0.8"/>
<line x1="386.5" y1="366.5" x2="386.5" y2="368.3" stroke="#333" stroke-width="0.8"/>
<line x1="392.5" y1="366.5" x2="392.5" y2="368.3" stroke="#333" stroke-width="0.8"/>
<line x1="398.5" y1="366.5" x2="398.5" y2="368.3" stroke="#333" stroke-width="0.8"/>
<line x1="404.5" y1="366.5" x2="404.5" y2="368.3" stroke="#333" stroke-width="0.8"/>
<line x1="409.5" y1="366.5" x2="409.5" y2="368.3" stroke="#333" stroke-width="0.8"/>
<line x1="415.5" y1="366.5" x2="415.5" y2="368.3" stroke="#333" stroke-width="0.8"/>
<line x1="421.5" y1="366.5" x2="421.5" y2="368.3" stroke="#333" stroke-width="0.8"/>
<line x1="427.5" y1="366.5" x2="427.5" y2="369.5" stroke="#333" stroke-width="1"/>
<text x="427" y="377.8" font-size="7.2" text-anchor="middle" fill="#222" stroke="#222" stroke-width="0.2">2000</text>
<line x1="432.5" y1="366.5" x2="432.5" y2="368.3" stroke="#333" stroke-width="0.8"/>
<line x1="438.5" y1="366.5" x2="438.5" y2="368.3" stroke="#333" stroke-width="0.8"/>
<line x1="444.5" y1="366.5" x2="444.5" y2="368.3" stroke="#333" stroke-width="0.8"/>
<line x1="449.5" y1="366.5" x2="449.5" y2="368.3" stroke="#333" stroke-width="0.8"/>
<line x1="455.5" y1="366.5" x2="455.5" y2="368.3" stroke="#333" stroke-width="0.8"/>
<line x1="461.5" y1="366.5" x2="461.5" y2="368.3" stroke="#333" stroke-width="0.8"/>
<line x1="467.5" y1="366.5" x2="467.5" y2="368.3" stroke="#333" stroke-width="0.8"/>
<line x1="472.5" y1="366.5" x2="472.5" y2="368.3" stroke="#333" stroke-width="0.8"/>
<line x1="478.5" y1="366.5" x2="478.5" y2="368.3" stroke="#333" stroke-width="0.8"/>
<line x1="484.5" y1="366.5" x2="484.5" y2="369.5" stroke="#333" stroke-width="1"/>
<text x="484.2" y="377.8" font-size="7.2" text-anchor="middle" fill="#222" stroke="#222" stroke-width="0.2">3000</text>
<line x1="489.5" y1="366.5" x2="489.5" y2="368.3" stroke="#333" stroke-width="0.8"/>
<line x1="495.5" y1="366.5" x2="495.5" y2="368.3" stroke="#333" stroke-width="0.8"/>
<line x1="501.5" y1="366.5" x2="501.5" y2="368.3" stroke="#333" stroke-width="0.8"/>
<line x1="507.5" y1="366.5" x2="507.5" y2="368.3" stroke="#333" stroke-width="0.8"/>
<line x1="512.5" y1="366.5" x2="512.5" y2="368.3" stroke="#333" stroke-width="0.8"/>
<line x1="518.5" y1="366.5" x2="518.5" y2="368.3" stroke="#333" stroke-width="0.8"/>
<line x1="524.5" y1="366.5" x2="524.5" y2="368.3" stroke="#333" stroke-width="0.8"/>
<line x1="529.5" y1="366.5" x2="529.5" y2="368.3" stroke="#333" stroke-width="0.8"/>
<line x1="535.5" y1="366.5" x2="535.5" y2="368.3" stroke="#333" stroke-width="0.8"/>
<line x1="541.5" y1="366.5" x2="541.5" y2="369.5" stroke="#333" stroke-width="1"/>
<text x="541.4" y="377.8" font-size="7.2" text-anchor="middle" fill="#222" stroke="#222" stroke-width="0.2">4000</text>
<line x1="547.5" y1="366.5" x2="547.5" y2="368.3" stroke="#333" stroke-width="0.8"/>
<text x="289.8" y="350.95" font-size="7.6" text-anchor="middle" fill="#222" stroke="#222" stroke-width="0.2" transform="rotate(-90 289.8 350.95)" dominant-baseline="central">% mCG</text>
<text x="432.45" y="331" font-size="7.9" text-anchor="middle" fill="#222" stroke="#222" stroke-width="0.2"><tspan font-style="italic">V. vinifera</tspan> (VIT_216s0050g02320)</text>
<text x="433" y="388.6" font-size="7.9" text-anchor="middle" fill="#222" stroke="#222" stroke-width="0.2">position (bp)</text>
<text x="603.8" y="84.3" font-size="9.5" text-anchor="middle" fill="#222" stroke="#222" stroke-width="0.2">Divergence from</text>
<text x="603.8" y="96" font-size="9.5" text-anchor="middle" font-style="italic" fill="#222" stroke="#222" stroke-width="0.2">A. thaliana</text>
<rect x="573.32" y="104.9" width="2.27" height="21.6" fill="#f5eefa"/>
<line x1="573.32" y1="104.9" x2="573.32" y2="126.5" stroke="#6e3a96" stroke-width="0.9" stroke-dasharray="1.2,0.8"/>
<line x1="575.59" y1="104.9" x2="575.59" y2="126.5" stroke="#6e3a96" stroke-width="0.9" stroke-dasharray="1.2,0.8"/>
<circle cx="574.28" cy="115.8" r="1.5" fill="#4a1670"/>
<line x1="571.4" y1="104.9" x2="571.4" y2="129" stroke="#333" stroke-width="1"/>
<line x1="568.7" y1="115.8" x2="571.4" y2="115.8" stroke="#333" stroke-width="1"/>
<line x1="571.4" y1="126.5" x2="636.9" y2="126.5" stroke="#333" stroke-width="1"/>
<line x1="571.4" y1="126.5" x2="571.4" y2="129.5" stroke="#333" stroke-width="1"/>
<text x="571.4" y="137.3" font-size="8" text-anchor="middle" fill="#222" stroke="#222" stroke-width="0.2">0</text>
<line x1="593.23" y1="126.5" x2="593.23" y2="129.5" stroke="#333" stroke-width="1"/>
<text x="593.23" y="137.3" font-size="8" text-anchor="middle" fill="#222" stroke="#222" stroke-width="0.2">50</text>
<line x1="615.07" y1="126.5" x2="615.07" y2="129.5" stroke="#333" stroke-width="1"/>
<text x="615.07" y="137.3" font-size="8" text-anchor="middle" fill="#222" stroke="#222" stroke-width="0.2">100</text>
<line x1="636.9" y1="126.5" x2="636.9" y2="129.5" stroke="#333" stroke-width="1"/>
<text x="636.9" y="137.3" font-size="8" text-anchor="middle" fill="#222" stroke="#222" stroke-width="0.2">150</text>
<rect x="574.28" y="164.9" width="3.71" height="21.6" fill="#f5eefa"/>
<line x1="574.28" y1="164.9" x2="574.28" y2="186.5" stroke="#6e3a96" stroke-width="0.9" stroke-dasharray="1.2,0.8"/>
<line x1="577.99" y1="164.9" x2="577.99" y2="186.5" stroke="#6e3a96" stroke-width="0.9" stroke-dasharray="1.2,0.8"/>
<circle cx="575.2" cy="175.8" r="1.5" fill="#4a1670"/>
<line x1="571.4" y1="164.9" x2="571.4" y2="189" stroke="#333" stroke-width="1"/>
<line x1="568.7" y1="175.8" x2="571.4" y2="175.8" stroke="#333" stroke-width="1"/>
<line x1="571.4" y1="186.5" x2="636.9" y2="186.5" stroke="#333" stroke-width="1"/>
<line x1="571.4" y1="186.5" x2="571.4" y2="189.5" stroke="#333" stroke-width="1"/>
<text x="571.4" y="197.3" font-size="8" text-anchor="middle" fill="#222" stroke="#222" stroke-width="0.2">0</text>
<line x1="593.23" y1="186.5" x2="593.23" y2="189.5" stroke="#333" stroke-width="1"/>
<text x="593.23" y="197.3" font-size="8" text-anchor="middle" fill="#222" stroke="#222" stroke-width="0.2">50</text>
<line x1="615.07" y1="186.5" x2="615.07" y2="189.5" stroke="#333" stroke-width="1"/>
<text x="615.07" y="197.3" font-size="8" text-anchor="middle" fill="#222" stroke="#222" stroke-width="0.2">100</text>
<line x1="636.9" y1="186.5" x2="636.9" y2="189.5" stroke="#333" stroke-width="1"/>
<text x="636.9" y="197.3" font-size="8" text-anchor="middle" fill="#222" stroke="#222" stroke-width="0.2">150</text>
<rect x="607.51" y="224.9" width="4.89" height="21.6" fill="#f5eefa"/>
<line x1="607.51" y1="224.9" x2="607.51" y2="246.5" stroke="#6e3a96" stroke-width="0.9" stroke-dasharray="1.2,0.8"/>
<line x1="612.4" y1="224.9" x2="612.4" y2="246.5" stroke="#6e3a96" stroke-width="0.9" stroke-dasharray="1.2,0.8"/>
<circle cx="610.79" cy="235.8" r="1.5" fill="#4a1670"/>
<line x1="571.4" y1="224.9" x2="571.4" y2="249" stroke="#333" stroke-width="1"/>
<line x1="568.7" y1="235.8" x2="571.4" y2="235.8" stroke="#333" stroke-width="1"/>
<line x1="571.4" y1="246.5" x2="636.9" y2="246.5" stroke="#333" stroke-width="1"/>
<line x1="571.4" y1="246.5" x2="571.4" y2="249.5" stroke="#333" stroke-width="1"/>
<text x="571.4" y="257.3" font-size="8" text-anchor="middle" fill="#222" stroke="#222" stroke-width="0.2">0</text>
<line x1="593.23" y1="246.5" x2="593.23" y2="249.5" stroke="#333" stroke-width="1"/>
<text x="593.23" y="257.3" font-size="8" text-anchor="middle" fill="#222" stroke="#222" stroke-width="0.2">50</text>
<line x1="615.07" y1="246.5" x2="615.07" y2="249.5" stroke="#333" stroke-width="1"/>
<text x="615.07" y="257.3" font-size="8" text-anchor="middle" fill="#222" stroke="#222" stroke-width="0.2">100</text>
<line x1="636.9" y1="246.5" x2="636.9" y2="249.5" stroke="#333" stroke-width="1"/>
<text x="636.9" y="257.3" font-size="8" text-anchor="middle" fill="#222" stroke="#222" stroke-width="0.2">150</text>
<rect x="610.22" y="284.9" width="4.67" height="21.6" fill="#f5eefa"/>
<line x1="610.22" y1="284.9" x2="610.22" y2="306.5" stroke="#6e3a96" stroke-width="0.9" stroke-dasharray="1.2,0.8"/>
<line x1="614.89" y1="284.9" x2="614.89" y2="306.5" stroke="#6e3a96" stroke-width="0.9" stroke-dasharray="1.2,0.8"/>
<circle cx="613.15" cy="295.8" r="1.5" fill="#4a1670"/>
<line x1="571.4" y1="284.9" x2="571.4" y2="309" stroke="#333" stroke-width="1"/>
<line x1="568.7" y1="295.8" x2="571.4" y2="295.8" stroke="#333" stroke-width="1"/>
<line x1="571.4" y1="306.5" x2="636.9" y2="306.5" stroke="#333" stroke-width="1"/>
<line x1="571.4" y1="306.5" x2="571.4" y2="309.5" stroke="#333" stroke-width="1"/>
<text x="571.4" y="317.3" font-size="8" text-anchor="middle" fill="#222" stroke="#222" stroke-width="0.2">0</text>
<line x1="593.23" y1="306.5" x2="593.23" y2="309.5" stroke="#333" stroke-width="1"/>
<text x="593.23" y="317.3" font-size="8" text-anchor="middle" fill="#222" stroke="#222" stroke-width="0.2">50</text>
<line x1="615.07" y1="306.5" x2="615.07" y2="309.5" stroke="#333" stroke-width="1"/>
<text x="615.07" y="317.3" font-size="8" text-anchor="middle" fill="#222" stroke="#222" stroke-width="0.2">100</text>
<line x1="636.9" y1="306.5" x2="636.9" y2="309.5" stroke="#333" stroke-width="1"/>
<text x="636.9" y="317.3" font-size="8" text-anchor="middle" fill="#222" stroke="#222" stroke-width="0.2">150</text>
<rect x="618.56" y="344.9" width="6.16" height="21.6" fill="#f5eefa"/>
<line x1="618.56" y1="344.9" x2="618.56" y2="366.5" stroke="#6e3a96" stroke-width="0.9" stroke-dasharray="1.2,0.8"/>
<line x1="624.72" y1="344.9" x2="624.72" y2="366.5" stroke="#6e3a96" stroke-width="0.9" stroke-dasharray="1.2,0.8"/>
<circle cx="621.97" cy="355.8" r="1.5" fill="#4a1670"/>
<line x1="571.4" y1="344.9" x2="571.4" y2="369" stroke="#333" stroke-width="1"/>
<line x1="568.7" y1="355.8" x2="571.4" y2="355.8" stroke="#333" stroke-width="1"/>
<line x1="571.4" y1="366.5" x2="636.9" y2="366.5" stroke="#333" stroke-width="1"/>
<line x1="571.4" y1="366.5" x2="571.4" y2="369.5" stroke="#333" stroke-width="1"/>
<text x="571.4" y="377.3" font-size="8" text-anchor="middle" fill="#222" stroke="#222" stroke-width="0.2">0</text>
<line x1="593.23" y1="366.5" x2="593.23" y2="369.5" stroke="#333" stroke-width="1"/>
<text x="593.23" y="377.3" font-size="8" text-anchor="middle" fill="#222" stroke="#222" stroke-width="0.2">50</text>
<line x1="615.07" y1="366.5" x2="615.07" y2="369.5" stroke="#333" stroke-width="1"/>
<text x="615.07" y="377.3" font-size="8" text-anchor="middle" fill="#222" stroke="#222" stroke-width="0.2">100</text>
<line x1="636.9" y1="366.5" x2="636.9" y2="369.5" stroke="#333" stroke-width="1"/>
<text x="636.9" y="377.3" font-size="8" text-anchor="middle" fill="#222" stroke="#222" stroke-width="0.2">150</text>
<text x="604.3" y="388.2" font-size="7.8" text-anchor="middle" fill="#222" stroke="#222" stroke-width="0.2">Million years (mya)</text>
<text x="8" y="405.2" font-size="15" text-anchor="start" font-weight="bold" fill="#111" stroke="#111" stroke-width="0.2">B</text>
<line x1="54.6" y1="406.3" x2="54.6" y2="518.6" stroke="#333" stroke-width="1"/>
<line x1="54.6" y1="518.6" x2="276.2" y2="518.6" stroke="#333" stroke-width="1"/>
<line x1="50.4" y1="518.6" x2="54.6" y2="518.6" stroke="#333" stroke-width="1"/>
<text x="49.6" y="521.6" font-size="8.4" text-anchor="end" fill="#222" stroke="#222" stroke-width="0.2">0</text>
<line x1="50.4" y1="496.14" x2="54.6" y2="496.14" stroke="#333" stroke-width="1"/>
<text x="49.6" y="499.14" font-size="8.4" text-anchor="end" fill="#222" stroke="#222" stroke-width="0.2">20</text>
<line x1="50.4" y1="473.68" x2="54.6" y2="473.68" stroke="#333" stroke-width="1"/>
<text x="49.6" y="476.68" font-size="8.4" text-anchor="end" fill="#222" stroke="#222" stroke-width="0.2">40</text>
<line x1="50.4" y1="451.22" x2="54.6" y2="451.22" stroke="#333" stroke-width="1"/>
<text x="49.6" y="454.22" font-size="8.4" text-anchor="end" fill="#222" stroke="#222" stroke-width="0.2">60</text>
<line x1="50.4" y1="428.76" x2="54.6" y2="428.76" stroke="#333" stroke-width="1"/>
<text x="49.6" y="431.76" font-size="8.4" text-anchor="end" fill="#222" stroke="#222" stroke-width="0.2">80</text>
<line x1="50.4" y1="406.3" x2="54.6" y2="406.3" stroke="#333" stroke-width="1"/>
<text x="49.6" y="409.3" font-size="8.4" text-anchor="end" fill="#222" stroke="#222" stroke-width="0.2">100</text>
<line x1="102.8" y1="405.5" x2="102.8" y2="524.7" stroke="#222" stroke-width="1.2" stroke-dasharray="1.4,1.4"/>
<line x1="145.8" y1="405.5" x2="145.8" y2="524.7" stroke="#222" stroke-width="1.2" stroke-dasharray="1.4,1.4"/>
<line x1="188.3" y1="405.5" x2="188.3" y2="524.7" stroke="#222" stroke-width="1.2" stroke-dasharray="1.4,1.4"/>
<line x1="231.3" y1="405.5" x2="231.3" y2="524.7" stroke="#222" stroke-width="1.2" stroke-dasharray="1.4,1.4"/>
<text x="16.6" y="461.8" font-size="9.4" text-anchor="middle" fill="#222" stroke="#222" stroke-width="0.2" transform="rotate(-90 16.6 461.8)" dominant-baseline="central"># heterogeneously</text>
<text x="26.7" y="461.8" font-size="9.4" text-anchor="middle" fill="#222" stroke="#222" stroke-width="0.2" transform="rotate(-90 26.7 461.8)" dominant-baseline="central">methylated CGs</text>
<line x1="339.6" y1="406.3" x2="339.6" y2="518.6" stroke="#333" stroke-width="1"/>
<line x1="339.6" y1="518.6" x2="565.3" y2="518.6" stroke="#333" stroke-width="1"/>
<line x1="335.4" y1="518.6" x2="339.6" y2="518.6" stroke="#333" stroke-width="1"/>
<text x="334.6" y="521.6" font-size="8.4" text-anchor="end" fill="#222" stroke="#222" stroke-width="0.2">0.0</text>
<line x1="335.4" y1="496.14" x2="339.6" y2="496.14" stroke="#333" stroke-width="1"/>
<text x="334.6" y="499.14" font-size="8.4" text-anchor="end" fill="#222" stroke="#222" stroke-width="0.2">0.2</text>
<line x1="335.4" y1="473.68" x2="339.6" y2="473.68" stroke="#333" stroke-width="1"/>
<text x="334.6" y="476.68" font-size="8.4" text-anchor="end" fill="#222" stroke="#222" stroke-width="0.2">0.4</text>
<line x1="335.4" y1="451.22" x2="339.6" y2="451.22" stroke="#333" stroke-width="1"/>
<text x="334.6" y="454.22" font-size="8.4" text-anchor="end" fill="#222" stroke="#222" stroke-width="0.2">0.6</text>
<line x1="335.4" y1="428.76" x2="339.6" y2="428.76" stroke="#333" stroke-width="1"/>
<text x="334.6" y="431.76" font-size="8.4" text-anchor="end" fill="#222" stroke="#222" stroke-width="0.2">0.8</text>
<line x1="335.4" y1="406.3" x2="339.6" y2="406.3" stroke="#333" stroke-width="1"/>
<text x="334.6" y="409.3" font-size="8.4" text-anchor="end" fill="#222" stroke="#222" stroke-width="0.2">1.0</text>
<line x1="386.9" y1="405.5" x2="386.9" y2="524.7" stroke="#222" stroke-width="1.2" stroke-dasharray="1.4,1.4"/>
<line x1="429.3" y1="405.5" x2="429.3" y2="524.7" stroke="#222" stroke-width="1.2" stroke-dasharray="1.4,1.4"/>
<line x1="471.1" y1="405.5" x2="471.1" y2="524.7" stroke="#222" stroke-width="1.2" stroke-dasharray="1.4,1.4"/>
<line x1="512.8" y1="405.5" x2="512.8" y2="524.7" stroke="#222" stroke-width="1.2" stroke-dasharray="1.4,1.4"/>
<text x="303.3" y="462.7" font-size="9.55" text-anchor="middle" fill="#222" stroke="#222" stroke-width="0.2" transform="rotate(-90 303.3 462.7)" dominant-baseline="central">Proportion heterogeneously</text>
<text x="313.4" y="462.7" font-size="9.55" text-anchor="middle" fill="#222" stroke="#222" stroke-width="0.2" transform="rotate(-90 313.4 462.7)" dominant-baseline="central">methylated CGs</text>
<path d="M71.4,416.6 C71.48,422.33 71.63,443.77 71.9,451 C72.17,458.23 72.65,456.83 73,460 C73.35,463.17 73.62,465.28 74,470 C74.38,474.72 74.42,483.08 75.3,488.3 C76.18,493.52 78.77,497.55 79.3,501.3 C79.83,505.05 78.9,508.52 78.5,510.8 C78.1,513.08 77.37,513.75 76.9,515 C76.43,516.25 75.9,517.75 75.7,518.3 L67.1,518.3 C66.9,517.75 66.37,516.25 65.9,515 C65.43,513.75 64.7,513.08 64.3,510.8 C63.9,508.52 62.97,505.05 63.5,501.3 C64.03,497.55 66.62,493.52 67.5,488.3 C68.38,483.08 68.42,474.72 68.8,470 C69.18,465.28 69.45,463.17 69.8,460 C70.15,456.83 70.63,458.23 70.9,451 C71.17,443.77 71.32,422.33 71.4,416.6 Z" fill="#88b8f4" stroke="#333" stroke-width="0.75" stroke-linejoin="round"/>
<line x1="63.5" y1="501.3" x2="79.3" y2="501.3" stroke="#111" stroke-width="1.3"/>
<line x1="67.5" y1="488.3" x2="75.3" y2="488.3" stroke="#111" stroke-width="1.1" stroke-dasharray="1.6,1.1"/>
<line x1="64.3" y1="510.8" x2="78.5" y2="510.8" stroke="#111" stroke-width="1.1" stroke-dasharray="1.6,1.1"/>
<path d="M92.1,440 C92.18,447 92.2,471.95 92.6,482 C93,492.05 94,495.97 94.5,500.3 C95,504.63 95.07,505.88 95.6,508 C96.13,510.12 97.08,511.67 97.7,513 C98.32,514.33 98.9,515.08 99.3,516 C99.7,516.92 99.97,518.08 100.1,518.5 L84.1,518.5 C84.23,518.08 84.5,516.92 84.9,516 C85.3,515.08 85.88,514.33 86.5,513 C87.12,511.67 88.07,510.12 88.6,508 C89.13,505.88 89.2,504.63 89.7,500.3 C90.2,495.97 91.2,492.05 91.6,482 C92,471.95 92.02,447 92.1,440 Z" fill="#e9e9e9" stroke="#333" stroke-width="0.75" stroke-linejoin="round"/>
<line x1="86.5" y1="513" x2="97.7" y2="513" stroke="#111" stroke-width="1.3"/>
<line x1="89.7" y1="500.3" x2="94.5" y2="500.3" stroke="#111" stroke-width="1.1" stroke-dasharray="1.6,1.1"/>
<path d="M113.1,406.6 C113.18,413.9 113.17,440.33 113.6,450.4 C114.03,460.47 115.03,461.1 115.7,467 C116.37,472.9 117,480.25 117.6,485.8 C118.2,491.35 118.83,495.68 119.3,500.3 C119.77,504.92 120.28,510.47 120.4,513.5 C120.52,516.53 120.07,517.67 120,518.5 L106.2,518.5 C106.13,517.67 105.68,516.53 105.8,513.5 C105.92,510.47 106.43,504.92 106.9,500.3 C107.37,495.68 108,491.35 108.6,485.8 C109.2,480.25 109.83,472.9 110.5,467 C111.17,461.1 112.17,460.47 112.6,450.4 C113.03,440.33 113.02,413.9 113.1,406.6 Z" fill="#88b8f4" stroke="#333" stroke-width="0.75" stroke-linejoin="round"/>
<line x1="106.9" y1="500.3" x2="119.3" y2="500.3" stroke="#111" stroke-width="1.3"/>
<line x1="108.6" y1="485.8" x2="117.6" y2="485.8" stroke="#111" stroke-width="1.1" stroke-dasharray="1.6,1.1"/>
<line x1="105.8" y1="513.5" x2="120.4" y2="513.5" stroke="#111" stroke-width="1.1" stroke-dasharray="1.6,1.1"/>
<path d="M133.7,406.6 C133.8,421.83 134.13,481.77 134.3,498 C134.47,514.23 134.43,502.33 134.7,504 C134.97,505.67 135.32,506.75 135.9,508 C136.48,509.25 137.4,510.25 138.2,511.5 C139,512.75 140.2,514.33 140.7,515.5 C141.2,516.67 141.12,518 141.2,518.5 L126.2,518.5 C126.28,518 126.2,516.67 126.7,515.5 C127.2,514.33 128.4,512.75 129.2,511.5 C130,510.25 130.92,509.25 131.5,508 C132.08,506.75 132.43,505.67 132.7,504 C132.97,502.33 132.93,514.23 133.1,498 C133.27,481.77 133.6,421.83 133.7,406.6 Z" fill="#e9e9e9" stroke="#333" stroke-width="0.75" stroke-linejoin="round"/>
<line x1="126.7" y1="515.5" x2="140.7" y2="515.5" stroke="#111" stroke-width="1.3"/>
<line x1="133.07" y1="498.5" x2="134.33" y2="498.5" stroke="#111" stroke-width="1.1" stroke-dasharray="1.6,1.1"/>
<path d="M154.9,449.7 C155,455.28 155.03,476.15 155.5,483.2 C155.97,490.25 157.15,489.67 157.7,492 C158.25,494.33 158.33,494.27 158.8,497.2 C159.27,500.13 159.9,506.97 160.5,509.6 C161.1,512.23 161.95,511.93 162.4,513 C162.85,514.07 163.08,515.08 163.2,516 C163.32,516.92 163.12,518.08 163.1,518.5 L146.7,518.5 C146.68,518.08 146.48,516.92 146.6,516 C146.72,515.08 146.95,514.07 147.4,513 C147.85,511.93 148.7,512.23 149.3,509.6 C149.9,506.97 150.53,500.13 151,497.2 C151.47,494.27 151.55,494.33 152.1,492 C152.65,489.67 153.83,490.25 154.3,483.2 C154.77,476.15 154.8,455.28 154.9,449.7 Z" fill="#88b8f4" stroke="#333" stroke-width="0.75" stroke-linejoin="round"/>
<line x1="149.3" y1="509.6" x2="160.5" y2="509.6" stroke="#111" stroke-width="1.3"/>
<line x1="151" y1="497.2" x2="158.8" y2="497.2" stroke="#111" stroke-width="1.1" stroke-dasharray="1.6,1.1"/>
<line x1="146.63" y1="516.8" x2="163.17" y2="516.8" stroke="#111" stroke-width="1.1" stroke-dasharray="1.6,1.1"/>
<path d="M175.5,434.4 C175.6,446.17 175.88,492.47 176.1,505 C176.32,517.53 176.48,508.43 176.8,509.6 C177.12,510.77 177.38,511.18 178,512 C178.62,512.82 179.75,513.75 180.5,514.5 C181.25,515.25 181.97,515.83 182.5,516.5 C183.03,517.17 183.5,518.17 183.7,518.5 L167.3,518.5 C167.5,518.17 167.97,517.17 168.5,516.5 C169.03,515.83 169.75,515.25 170.5,514.5 C171.25,513.75 172.38,512.82 173,512 C173.62,511.18 173.88,510.77 174.2,509.6 C174.52,508.43 174.68,517.53 174.9,505 C175.12,492.47 175.4,446.17 175.5,434.4 Z" fill="#e9e9e9" stroke="#333" stroke-width="0.75" stroke-linejoin="round"/>
<line x1="174.2" y1="509.6" x2="176.8" y2="509.6" stroke="#111" stroke-width="1.3"/>
<path d="M196.5,465.4 C196.6,468.17 196.72,477.9 197.1,482 C197.48,486.1 198.2,487.67 198.8,490 C199.4,492.33 200.03,494.03 200.7,496 C201.37,497.97 202.17,499.97 202.8,501.8 C203.43,503.63 204.38,505.08 204.5,507 C204.62,508.92 203.92,511.72 203.5,513.3 C203.08,514.88 202.42,515.67 202,516.5 C201.58,517.33 201.17,518 201,518.3 L192,518.3 C191.83,518 191.42,517.33 191,516.5 C190.58,515.67 189.92,514.88 189.5,513.3 C189.08,511.72 188.38,508.92 188.5,507 C188.62,505.08 189.57,503.63 190.2,501.8 C190.83,499.97 191.63,497.97 192.3,496 C192.97,494.03 193.6,492.33 194.2,490 C194.8,487.67 195.52,486.1 195.9,482 C196.28,477.9 196.4,468.17 196.5,465.4 Z" fill="#88b8f4" stroke="#333" stroke-width="0.75" stroke-linejoin="round"/>
<line x1="188.5" y1="507" x2="204.5" y2="507" stroke="#111" stroke-width="1.3"/>
<line x1="190.2" y1="501.8" x2="202.8" y2="501.8" stroke="#111" stroke-width="1.1" stroke-dasharray="1.6,1.1"/>
<line x1="189.5" y1="513.3" x2="203.5" y2="513.3" stroke="#111" stroke-width="1.1" stroke-dasharray="1.6,1.1"/>
<path d="M217.5,464.6 C217.6,470.5 217.73,492.72 218.1,500 C218.47,507.28 219.22,506.3 219.7,508.3 C220.18,510.3 220.5,510.92 221,512 C221.5,513.08 222.15,514 222.7,514.8 C223.25,515.6 223.87,516.18 224.3,516.8 C224.73,517.42 225.13,518.22 225.3,518.5 L209.7,518.5 C209.87,518.22 210.27,517.42 210.7,516.8 C211.13,516.18 211.75,515.6 212.3,514.8 C212.85,514 213.5,513.08 214,512 C214.5,510.92 214.82,510.3 215.3,508.3 C215.78,506.3 216.53,507.28 216.9,500 C217.27,492.72 217.4,470.5 217.5,464.6 Z" fill="#e9e9e9" stroke="#333" stroke-width="0.75" stroke-linejoin="round"/>
<line x1="212.3" y1="514.8" x2="222.7" y2="514.8" stroke="#111" stroke-width="1.3"/>
<line x1="215.3" y1="508.3" x2="219.7" y2="508.3" stroke="#111" stroke-width="1.1" stroke-dasharray="1.6,1.1"/>
<path d="M238.2,406.6 C238.28,413.08 238.5,437.43 238.7,445.5 C238.9,453.57 239.08,450.92 239.4,455 C239.72,459.08 240.18,465.83 240.6,470 C241.02,474.17 241.47,476.87 241.9,480 C242.33,483.13 242.67,485.07 243.2,488.8 C243.73,492.53 244.72,498.73 245.1,502.4 C245.48,506.07 245.57,508.53 245.5,510.8 C245.43,513.07 244.95,514.72 244.7,516 C244.45,517.28 244.12,518.08 244,518.5 L232.4,518.5 C232.28,518.08 231.95,517.28 231.7,516 C231.45,514.72 230.97,513.07 230.9,510.8 C230.83,508.53 230.92,506.07 231.3,502.4 C231.68,498.73 232.67,492.53 233.2,488.8 C233.73,485.07 234.07,483.13 234.5,480 C234.93,476.87 235.38,474.17 235.8,470 C236.22,465.83 236.68,459.08 237,455 C237.32,450.92 237.5,453.57 237.7,445.5 C237.9,437.43 238.12,413.08 238.2,406.6 Z" fill="#88b8f4" stroke="#333" stroke-width="0.75" stroke-linejoin="round"/>
<line x1="231.3" y1="502.4" x2="245.1" y2="502.4" stroke="#111" stroke-width="1.3"/>
<line x1="233.2" y1="488.8" x2="243.2" y2="488.8" stroke="#111" stroke-width="1.1" stroke-dasharray="1.6,1.1"/>
<line x1="230.9" y1="510.8" x2="245.5" y2="510.8" stroke="#111" stroke-width="1.1" stroke-dasharray="1.6,1.1"/>
<path d="M258.7,406.6 C258.8,421.5 259.03,480.2 259.3,496 C259.57,511.8 259.93,499.73 260.3,501.4 C260.67,503.07 261.07,504.57 261.5,506 C261.93,507.43 262.37,508.8 262.9,510 C263.43,511.2 264.17,512.2 264.7,513.2 C265.23,514.2 265.75,515.12 266.1,516 C266.45,516.88 266.68,518.08 266.8,518.5 L250.6,518.5 C250.72,518.08 250.95,516.88 251.3,516 C251.65,515.12 252.17,514.2 252.7,513.2 C253.23,512.2 253.97,511.2 254.5,510 C255.03,508.8 255.47,507.43 255.9,506 C256.33,504.57 256.73,503.07 257.1,501.4 C257.47,499.73 257.83,511.8 258.1,496 C258.37,480.2 258.6,421.5 258.7,406.6 Z" fill="#e9e9e9" stroke="#333" stroke-width="0.75" stroke-linejoin="round"/>
<line x1="252.7" y1="513.2" x2="264.7" y2="513.2" stroke="#111" stroke-width="1.3"/>
<line x1="257.1" y1="501.4" x2="260.3" y2="501.4" stroke="#111" stroke-width="1.1" stroke-dasharray="1.6,1.1"/>
<path d="M356.5,405.9 C356.58,414.08 356.73,444.32 357,455 C357.27,465.68 357.72,465.83 358.1,470 C358.48,474.17 358.85,476.55 359.3,480 C359.75,483.45 359.95,487.13 360.8,490.7 C361.65,494.27 363.9,498.35 364.4,501.4 C364.9,504.45 364.2,506.9 363.8,509 C363.4,511.1 362.52,512.55 362,514 C361.48,515.45 360.92,517.08 360.7,517.7 L352.3,517.7 C352.08,517.08 351.52,515.45 351,514 C350.48,512.55 349.6,511.1 349.2,509 C348.8,506.9 348.1,504.45 348.6,501.4 C349.1,498.35 351.35,494.27 352.2,490.7 C353.05,487.13 353.25,483.45 353.7,480 C354.15,476.55 354.52,474.17 354.9,470 C355.28,465.83 355.73,465.68 356,455 C356.27,444.32 356.42,414.08 356.5,405.9 Z" fill="#88b8f4" stroke="#333" stroke-width="0.75" stroke-linejoin="round"/>
<line x1="348.6" y1="501.4" x2="364.4" y2="501.4" stroke="#111" stroke-width="1.3"/>
<line x1="352.2" y1="490.7" x2="360.8" y2="490.7" stroke="#111" stroke-width="1.1" stroke-dasharray="1.6,1.1"/>
<line x1="349.2" y1="509" x2="363.8" y2="509" stroke="#111" stroke-width="1.1" stroke-dasharray="1.6,1.1"/>
<path d="M377.7,453.8 C377.8,457.5 377.8,469.97 378.3,476 C378.8,482.03 379.97,486.1 380.7,490 C381.43,493.9 382.12,496.42 382.7,499.4 C383.28,502.38 383.77,505 384.2,507.9 C384.63,510.8 385.12,515.03 385.3,516.8 C385.48,518.57 385.3,518.22 385.3,518.5 L370.1,518.5 C370.1,518.22 369.92,518.57 370.1,516.8 C370.28,515.03 370.77,510.8 371.2,507.9 C371.63,505 372.12,502.38 372.7,499.4 C373.28,496.42 373.97,493.9 374.7,490 C375.43,486.1 376.6,482.03 377.1,476 C377.6,469.97 377.6,457.5 377.7,453.8 Z" fill="#e9e9e9" stroke="#333" stroke-width="0.75" stroke-linejoin="round"/>
<line x1="371.2" y1="507.9" x2="384.2" y2="507.9" stroke="#111" stroke-width="1.3"/>
<line x1="372.7" y1="499.4" x2="382.7" y2="499.4" stroke="#111" stroke-width="1.1" stroke-dasharray="1.6,1.1"/>
<line x1="370.1" y1="517" x2="385.3" y2="517" stroke="#111" stroke-width="1.1" stroke-dasharray="1.6,1.1"/>
<path d="M398.5,405.9 C398.58,412.9 398.5,438.55 399,447.9 C399.5,457.25 400.7,455.95 401.5,462 C402.3,468.05 402.9,478.18 403.8,484.2 C404.7,490.22 406.53,493.38 406.9,498.1 C407.27,502.82 406.23,509.13 406,512.5 C405.77,515.87 405.58,517.33 405.5,518.3 L391.5,518.3 C391.42,517.33 391.23,515.87 391,512.5 C390.77,509.13 389.73,502.82 390.1,498.1 C390.47,493.38 392.3,490.22 393.2,484.2 C394.1,478.18 394.7,468.05 395.5,462 C396.3,455.95 397.5,457.25 398,447.9 C398.5,438.55 398.42,412.9 398.5,405.9 Z" fill="#88b8f4" stroke="#333" stroke-width="0.75" stroke-linejoin="round"/>
<line x1="390.1" y1="498.1" x2="406.9" y2="498.1" stroke="#111" stroke-width="1.3"/>
<line x1="393.2" y1="484.2" x2="403.8" y2="484.2" stroke="#111" stroke-width="1.1" stroke-dasharray="1.6,1.1"/>
<line x1="391" y1="512.5" x2="406" y2="512.5" stroke="#111" stroke-width="1.1" stroke-dasharray="1.6,1.1"/>
<path d="M419.5,433.3 C419.7,439.42 420.37,461.55 420.7,470 C421.03,478.45 421.23,479.75 421.5,484 C421.77,488.25 422,492.33 422.3,495.5 C422.6,498.67 422.97,500.75 423.3,503 C423.63,505.25 423.85,507.33 424.3,509 C424.75,510.67 425.4,511.42 426,513 C426.6,514.58 427.58,517.58 427.9,518.5 L411.1,518.5 C411.42,517.58 412.4,514.58 413,513 C413.6,511.42 414.25,510.67 414.7,509 C415.15,507.33 415.37,505.25 415.7,503 C416.03,500.75 416.4,498.67 416.7,495.5 C417,492.33 417.23,488.25 417.5,484 C417.77,479.75 417.97,478.45 418.3,470 C418.63,461.55 419.3,439.42 419.5,433.3 Z" fill="#e9e9e9" stroke="#333" stroke-width="0.75" stroke-linejoin="round"/>
<line x1="414.7" y1="509" x2="424.3" y2="509" stroke="#111" stroke-width="1.3"/>
<line x1="416.7" y1="495.5" x2="422.3" y2="495.5" stroke="#111" stroke-width="1.1" stroke-dasharray="1.6,1.1"/>
<path d="M441.5,456.9 C441.6,459.98 441.52,470.78 442.1,475.4 C442.68,480.02 444.3,481.13 445,484.6 C445.7,488.07 445.92,492.53 446.3,496.2 C446.68,499.87 446.77,503.92 447.3,506.6 C447.83,509.28 449.12,510.78 449.5,512.3 C449.88,513.82 449.6,514.67 449.6,515.7 C449.6,516.73 449.52,518.03 449.5,518.5 L433.5,518.5 C433.48,518.03 433.4,516.73 433.4,515.7 C433.4,514.67 433.12,513.82 433.5,512.3 C433.88,510.78 435.17,509.28 435.7,506.6 C436.23,503.92 436.32,499.87 436.7,496.2 C437.08,492.53 437.3,488.07 438,484.6 C438.7,481.13 440.32,480.02 440.9,475.4 C441.48,470.78 441.4,459.98 441.5,456.9 Z" fill="#88b8f4" stroke="#333" stroke-width="0.75" stroke-linejoin="round"/>
<line x1="435.7" y1="506.6" x2="447.3" y2="506.6" stroke="#111" stroke-width="1.3"/>
<line x1="436.7" y1="496.2" x2="446.3" y2="496.2" stroke="#111" stroke-width="1.1" stroke-dasharray="1.6,1.1"/>
<line x1="433.4" y1="515.7" x2="449.6" y2="515.7" stroke="#111" stroke-width="1.1" stroke-dasharray="1.6,1.1"/>
<path d="M462.2,465.4 C462.3,469.5 462.42,484.35 462.8,490 C463.18,495.65 464.1,496.63 464.5,499.3 C464.9,501.97 464.92,504.13 465.2,506 C465.48,507.87 465.7,509.33 466.2,510.5 C466.7,511.67 467.67,512.08 468.2,513 C468.73,513.92 469.15,515.08 469.4,516 C469.65,516.92 469.65,518.08 469.7,518.5 L454.7,518.5 C454.75,518.08 454.75,516.92 455,516 C455.25,515.08 455.67,513.92 456.2,513 C456.73,512.08 457.7,511.67 458.2,510.5 C458.7,509.33 458.92,507.87 459.2,506 C459.48,504.13 459.5,501.97 459.9,499.3 C460.3,496.63 461.22,495.65 461.6,490 C461.98,484.35 462.1,469.5 462.2,465.4 Z" fill="#e9e9e9" stroke="#333" stroke-width="0.75" stroke-linejoin="round"/>
<line x1="456.2" y1="513" x2="468.2" y2="513" stroke="#111" stroke-width="1.3"/>
<line x1="459.9" y1="499.3" x2="464.5" y2="499.3" stroke="#111" stroke-width="1.1" stroke-dasharray="1.6,1.1"/>
<path d="M483.8,453.1 C483.93,458.92 484.23,481.52 484.6,488 C484.97,494.48 485.53,490.58 486,492 C486.47,493.42 486.9,495.02 487.4,496.5 C487.9,497.98 488.3,499.07 489,500.9 C489.7,502.73 491.27,505.75 491.6,507.5 C491.93,509.25 491.47,510.07 491,511.4 C490.53,512.73 489.5,514.4 488.8,515.5 C488.1,516.6 487.13,517.58 486.8,518 L480.8,518 C480.47,517.58 479.5,516.6 478.8,515.5 C478.1,514.4 477.07,512.73 476.6,511.4 C476.13,510.07 475.67,509.25 476,507.5 C476.33,505.75 477.9,502.73 478.6,500.9 C479.3,499.07 479.7,497.98 480.2,496.5 C480.7,495.02 481.13,493.42 481.6,492 C482.07,490.58 482.63,494.48 483,488 C483.37,481.52 483.67,458.92 483.8,453.1 Z" fill="#88b8f4" stroke="#333" stroke-width="0.75" stroke-linejoin="round"/>
<line x1="476" y1="507.5" x2="491.6" y2="507.5" stroke="#111" stroke-width="1.3"/>
<line x1="478.6" y1="500.9" x2="489" y2="500.9" stroke="#111" stroke-width="1.1" stroke-dasharray="1.6,1.1"/>
<line x1="476.6" y1="511.4" x2="491" y2="511.4" stroke="#111" stroke-width="1.1" stroke-dasharray="1.6,1.1"/>
<path d="M505.1,468.5 C505.2,472.47 505,486.08 505.7,492.3 C506.4,498.52 508.43,502.47 509.3,505.8 C510.17,509.13 510.43,510.7 510.9,512.3 C511.37,513.9 511.82,514.37 512.1,515.4 C512.38,516.43 512.52,517.98 512.6,518.5 L497.6,518.5 C497.68,517.98 497.82,516.43 498.1,515.4 C498.38,514.37 498.83,513.9 499.3,512.3 C499.77,510.7 500.03,509.13 500.9,505.8 C501.77,502.47 503.8,498.52 504.5,492.3 C505.2,486.08 505,472.47 505.1,468.5 Z" fill="#e9e9e9" stroke="#333" stroke-width="0.75" stroke-linejoin="round"/>
<line x1="499.3" y1="512.3" x2="510.9" y2="512.3" stroke="#111" stroke-width="1.3"/>
<line x1="500.9" y1="505.8" x2="509.3" y2="505.8" stroke="#111" stroke-width="1.1" stroke-dasharray="1.6,1.1"/>
<line x1="498.1" y1="515.4" x2="512.1" y2="515.4" stroke="#111" stroke-width="1.1" stroke-dasharray="1.6,1.1"/>
<path d="M526.7,406.6 C526.78,414.67 527.02,445.77 527.2,455 C527.38,464.23 527.48,459.5 527.8,462 C528.12,464.5 528.62,467.5 529.1,470 C529.58,472.5 530.07,474.38 530.7,477 C531.33,479.62 532.2,482.9 532.9,485.7 C533.6,488.5 534.8,491.58 534.9,493.8 C535,496.02 534,497.15 533.5,499 C533,500.85 532.33,502.73 531.9,504.9 C531.47,507.07 531.12,509.77 530.9,512 C530.68,514.23 530.65,517.25 530.6,518.3 L522.8,518.3 C522.75,517.25 522.72,514.23 522.5,512 C522.28,509.77 521.93,507.07 521.5,504.9 C521.07,502.73 520.4,500.85 519.9,499 C519.4,497.15 518.4,496.02 518.5,493.8 C518.6,491.58 519.8,488.5 520.5,485.7 C521.2,482.9 522.07,479.62 522.7,477 C523.33,474.38 523.82,472.5 524.3,470 C524.78,467.5 525.28,464.5 525.6,462 C525.92,459.5 526.02,464.23 526.2,455 C526.38,445.77 526.62,414.67 526.7,406.6 Z" fill="#88b8f4" stroke="#333" stroke-width="0.75" stroke-linejoin="round"/>
<line x1="518.5" y1="493.8" x2="534.9" y2="493.8" stroke="#111" stroke-width="1.3"/>
<line x1="520.5" y1="485.7" x2="532.9" y2="485.7" stroke="#111" stroke-width="1.1" stroke-dasharray="1.6,1.1"/>
<line x1="521.5" y1="504.9" x2="531.9" y2="504.9" stroke="#111" stroke-width="1.1" stroke-dasharray="1.6,1.1"/>
<path d="M547.6,406.6 C547.7,416.67 547.65,453.1 548.2,467 C548.75,480.9 550.27,484.5 550.9,490 C551.53,495.5 551.72,497.18 552,500 C552.28,502.82 552.25,505.15 552.6,506.9 C552.95,508.65 553.65,509.23 554.1,510.5 C554.55,511.77 555.02,513.17 555.3,514.5 C555.58,515.83 555.72,517.83 555.8,518.5 L539.4,518.5 C539.48,517.83 539.62,515.83 539.9,514.5 C540.18,513.17 540.65,511.77 541.1,510.5 C541.55,509.23 542.25,508.65 542.6,506.9 C542.95,505.15 542.92,502.82 543.2,500 C543.48,497.18 543.67,495.5 544.3,490 C544.93,484.5 546.45,480.9 547,467 C547.55,453.1 547.5,416.67 547.6,406.6 Z" fill="#e9e9e9" stroke="#333" stroke-width="0.75" stroke-linejoin="round"/>
<line x1="542.6" y1="506.9" x2="552.6" y2="506.9" stroke="#111" stroke-width="1.3"/>
<line x1="544.3" y1="490" x2="550.9" y2="490" stroke="#111" stroke-width="1.1" stroke-dasharray="1.6,1.1"/>
<text x="92.1" y="439.8" font-size="8.6" text-anchor="middle" fill="#222" stroke="#222" stroke-width="0.2">***</text>
<text x="133.7" y="405.6" font-size="8.6" text-anchor="middle" fill="#222" stroke="#222" stroke-width="0.2">***</text>
<text x="175.5" y="433.8" font-size="8.6" text-anchor="middle" fill="#222" stroke="#222" stroke-width="0.2">***</text>
<text x="217.5" y="463.6" font-size="8.6" text-anchor="middle" fill="#222" stroke="#222" stroke-width="0.2">***</text>
<text x="258.7" y="405.7" font-size="8.6" text-anchor="middle" fill="#222" stroke="#222" stroke-width="0.2">***</text>
<text x="377.7" y="451.4" font-size="8.6" text-anchor="middle" fill="#222" stroke="#222" stroke-width="0.2">***</text>
<text x="419.5" y="431.8" font-size="8.6" text-anchor="middle" fill="#222" stroke="#222" stroke-width="0.2">***</text>
<text x="461.2" y="461.2" font-size="8.6" text-anchor="middle" fill="#222" stroke="#222" stroke-width="0.2">*</text>
<text x="505.1" y="465.2" font-size="8.6" text-anchor="middle" fill="#222" stroke="#222" stroke-width="0.2">***</text>
<text x="547.5" y="405.7" font-size="8.6" text-anchor="middle" fill="#222" stroke="#222" stroke-width="0.2">***</text>
<text x="80.8" y="529.3" font-size="8.4" text-anchor="middle" font-style="italic" fill="#222" stroke="#222" stroke-width="0.2">A. lyrata</text>
<text x="124.4" y="529.3" font-size="8.4" text-anchor="middle" font-style="italic" fill="#222" stroke="#222" stroke-width="0.2">C. rubella</text>
<text x="166.8" y="529.3" font-size="8.4" text-anchor="middle" font-style="italic" fill="#222" stroke="#222" stroke-width="0.2">T. cacao</text>
<text x="210" y="529.3" font-size="8.4" text-anchor="middle" font-style="italic" fill="#222" stroke="#222" stroke-width="0.2">C.clement.</text>
<text x="253.2" y="529.3" font-size="8.4" text-anchor="middle" font-style="italic" fill="#222" stroke="#222" stroke-width="0.2">V. vinifera</text>
<text x="366.4" y="529.3" font-size="8.4" text-anchor="middle" font-style="italic" fill="#222" stroke="#222" stroke-width="0.2">A. lyrata</text>
<text x="409" y="529.3" font-size="8.4" text-anchor="middle" font-style="italic" fill="#222" stroke="#222" stroke-width="0.2">C. rubella</text>
<text x="451.2" y="529.3" font-size="8.4" text-anchor="middle" font-style="italic" fill="#222" stroke="#222" stroke-width="0.2">T. cacao</text>
<text x="494" y="529.3" font-size="8.4" text-anchor="middle" font-style="italic" fill="#222" stroke="#222" stroke-width="0.2">C.clement.</text>
<text x="535" y="529.3" font-size="8.4" text-anchor="middle" font-style="italic" fill="#222" stroke="#222" stroke-width="0.2">V. vinifera</text>
<rect x="570.6" y="449.3" width="9" height="6" fill="#88b8f4" stroke="#2b4f8a" stroke-width="1"/>
<rect x="570.6" y="483.4" width="9" height="6" fill="#d6d6d6" stroke="#777" stroke-width="1"/>
<text x="611.7" y="448.8" font-size="10.5" text-anchor="middle" fill="#222" stroke="#222" stroke-width="0.2">Dynamic</text>
<text x="611.7" y="460.5" font-size="10.5" text-anchor="middle" fill="#222" stroke="#222" stroke-width="0.2">GbM genes</text>
<text x="611.7" y="483" font-size="10.5" text-anchor="middle" fill="#222" stroke="#222" stroke-width="0.2">Random</text>
<text x="611.7" y="495.1" font-size="10.5" text-anchor="middle" fill="#222" stroke="#222" stroke-width="0.2">genes</text>
<rect x="648" y="0" width="2" height="533" fill="#5a5a5a"/>
</svg>
</body></html>
